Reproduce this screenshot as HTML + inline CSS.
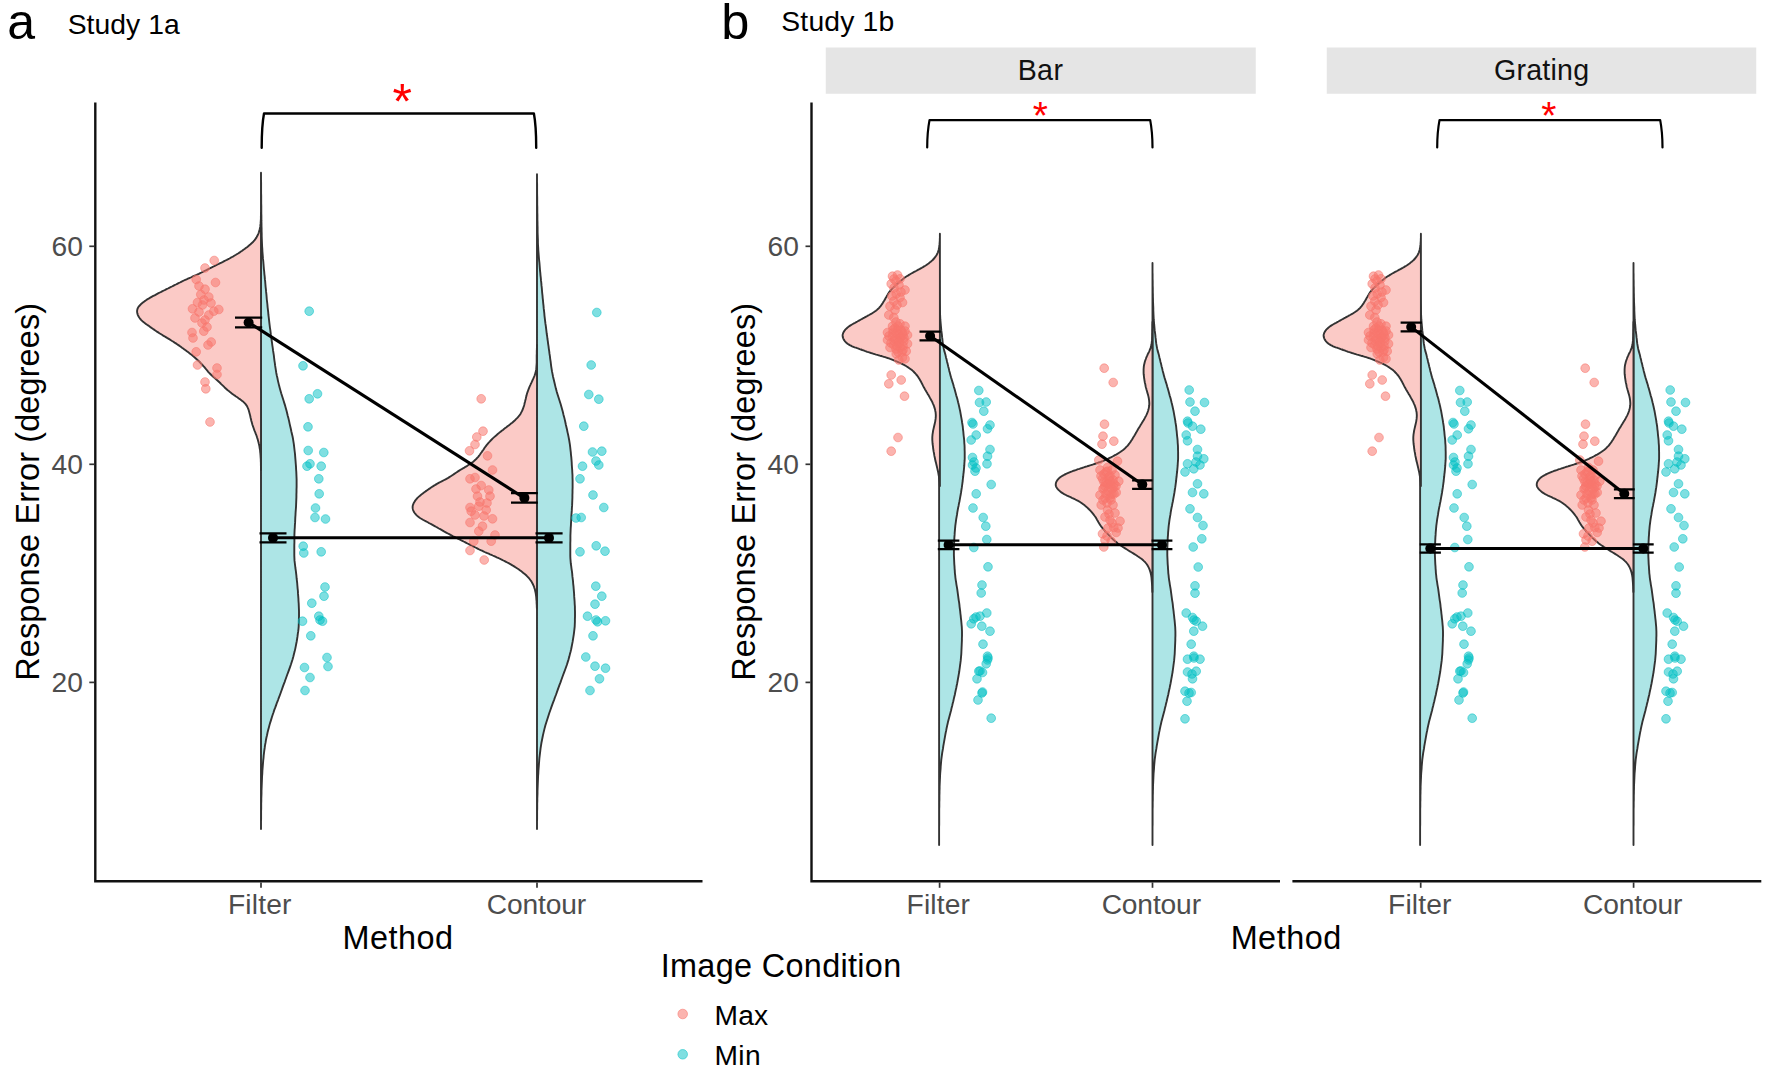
<!DOCTYPE html>
<html lang="en"><head><meta charset="utf-8"><title>Figure: Study 1a and Study 1b</title>
<style>html,body{margin:0;padding:0;background:#fff;}svg{display:block;}text{font-family:"Liberation Sans", sans-serif;}</style>
</head><body>
<svg width="1776" height="1078" viewBox="0 0 1776 1078">
<rect width="1776" height="1078" fill="#fff"/>
<rect x="825.75" y="47.5" width="430" height="46.25" fill="#e5e5e5"/>
<rect x="1326.75" y="47.5" width="429.5" height="46.25" fill="#e5e5e5"/>
<text x="1017.64" y="80" font-size="28.6" fill="#111" letter-spacing="0.408">Bar</text>
<text x="1493.97" y="80" font-size="28.6" fill="#111" letter-spacing="0.230">Grating</text>
<text x="7.18" y="39.1" font-size="50" fill="#000">a</text>
<text x="721.32" y="39" font-size="50.5" fill="#000">b</text>
<text x="67.63" y="33.9" font-size="28.3" fill="#000" letter-spacing="0.066">Study 1a</text>
<text x="781.33" y="31.2" font-size="28.3" fill="#000" letter-spacing="0.166">Study 1b</text>
<path d="M261,172.8 L261,175.3 L261,177.9 L261,180.4 L261.1,182.9 L261.1,185.5 L261.1,188 L261.1,190.5 L261.1,193.1 L261.2,195.6 L261.2,198.1 L261.2,200.7 L261.2,203.2 L261.3,205.7 L261.3,208.3 L261.3,210.8 L261.3,213.3 L261.4,215.9 L261.4,218.4 L261.4,220.9 L261.5,223.5 L261.5,226 L261.6,228.5 L261.6,231.1 L261.7,233.6 L261.7,236.1 L261.8,238.7 L261.9,241.2 L262,243.7 L262.1,246.3 L262.3,248.8 L262.4,251.3 L262.6,253.9 L262.8,256.4 L263,258.9 L263.3,261.5 L263.5,264 L263.7,266.5 L263.9,269.1 L264.2,271.6 L264.4,274.1 L264.7,276.7 L264.9,279.2 L265.2,281.7 L265.4,284.3 L265.6,286.8 L265.9,289.3 L266.1,291.9 L266.4,294.4 L266.6,296.9 L266.8,299.5 L267.1,302 L267.4,304.5 L267.6,307.1 L267.9,309.6 L268.2,312.1 L268.4,314.7 L268.7,317.2 L269,319.7 L269.3,322.3 L269.6,324.8 L269.9,327.3 L270.3,329.9 L270.6,332.4 L270.9,334.9 L271.3,337.5 L271.6,340 L272,342.6 L272.3,345.1 L272.7,347.6 L273,350.2 L273.4,352.7 L273.8,355.2 L274.1,357.8 L274.4,360.3 L274.8,362.8 L275.1,365.4 L275.5,367.9 L275.9,370.4 L276.3,373 L276.8,375.5 L277.4,378 L277.9,380.6 L278.5,383.1 L279.1,385.6 L279.8,388.2 L280.5,390.7 L281.2,393.2 L282,395.8 L282.8,398.3 L283.6,400.8 L284.4,403.4 L285.2,405.9 L285.9,408.4 L286.6,411 L287.2,413.5 L287.8,416 L288.5,418.6 L289.1,421.1 L289.6,423.6 L290.2,426.2 L290.8,428.7 L291.3,431.2 L291.9,433.8 L292.5,436.3 L293,438.8 L293.4,441.4 L293.8,443.9 L294.1,446.4 L294.4,449 L294.7,451.5 L295,454 L295.2,456.6 L295.4,459.1 L295.6,461.6 L295.8,464.2 L296,466.7 L296.1,469.2 L296.3,471.8 L296.4,474.3 L296.5,476.8 L296.6,479.4 L296.6,481.9 L296.6,484.4 L296.6,487 L296.5,489.5 L296.5,492 L296.4,494.6 L296.4,497.1 L296.3,499.6 L296.2,502.2 L296.1,504.7 L296,507.2 L295.8,509.8 L295.6,512.3 L295.5,514.8 L295.3,517.4 L295.2,519.9 L295.1,522.4 L294.9,525 L294.8,527.5 L294.6,530 L294.5,532.6 L294.4,535.1 L294.4,537.6 L294.4,540.2 L294.4,542.7 L294.3,545.2 L294.3,547.8 L294.3,550.3 L294.3,552.8 L294.3,555.4 L294.4,557.9 L294.5,560.4 L294.8,563 L295.1,565.5 L295.4,568 L295.8,570.6 L296.1,573.1 L296.4,575.6 L296.6,578.2 L296.9,580.7 L297.2,583.2 L297.4,585.8 L297.6,588.3 L297.9,590.8 L298,593.4 L298.2,595.9 L298.4,598.4 L298.5,601 L298.7,603.5 L298.8,606 L298.9,608.6 L299,611.1 L299,613.6 L299,616.2 L298.9,618.7 L298.9,621.2 L298.8,623.8 L298.7,626.3 L298.5,628.8 L298.2,631.4 L297.8,633.9 L297.5,636.4 L297.1,639 L296.7,641.5 L296.2,644 L295.7,646.6 L295.2,649.1 L294.6,651.6 L293.9,654.2 L293.3,656.7 L292.6,659.2 L291.8,661.8 L291,664.3 L290.1,666.9 L289.2,669.4 L288.3,671.9 L287.3,674.5 L286.4,677 L285.5,679.5 L284.6,682.1 L283.6,684.6 L282.7,687.1 L281.8,689.7 L280.9,692.2 L280,694.7 L279,697.3 L278.1,699.8 L277.1,702.3 L276.2,704.9 L275.3,707.4 L274.3,709.9 L273.5,712.5 L272.6,715 L271.8,717.5 L271,720.1 L270.2,722.6 L269.5,725.1 L268.8,727.7 L268.1,730.2 L267.5,732.7 L267,735.3 L266.4,737.8 L265.9,740.3 L265.5,742.9 L265,745.4 L264.7,747.9 L264.3,750.5 L264,753 L263.7,755.5 L263.5,758.1 L263.2,760.6 L263,763.1 L262.8,765.7 L262.6,768.2 L262.4,770.7 L262.3,773.3 L262.1,775.8 L262,778.3 L261.9,780.9 L261.8,783.4 L261.7,785.9 L261.6,788.5 L261.5,791 L261.5,793.5 L261.4,796.1 L261.3,798.6 L261.3,801.1 L261.2,803.7 L261.2,806.2 L261.2,808.7 L261.1,811.3 L261.1,813.8 L261.1,816.3 L261.1,818.9 L261,821.4 L261,823.9 L261,826.5 L261,829Z" fill="#ade5e6" stroke="#333333" stroke-width="1.9" stroke-linejoin="round"/>
<path d="M261,213 L261,214.5 L260.9,216 L260.9,217.5 L260.9,219 L260.8,220.4 L260.7,221.9 L260.6,223.4 L260.4,224.9 L260.3,226.4 L260,227.9 L259.7,229.3 L259.3,230.8 L258.9,232.2 L258.4,233.6 L257.8,235 L257.1,236.3 L256.4,237.6 L255.5,238.9 L254.6,240.1 L253.7,241.2 L252.7,242.3 L251.6,243.3 L250.5,244.3 L249.3,245.3 L248.2,246.2 L247,247.2 L245.8,248.1 L244.6,249 L243.4,249.8 L242.2,250.7 L240.9,251.5 L239.7,252.4 L238.5,253.2 L237.2,254 L235.9,254.8 L234.7,255.5 L233.4,256.3 L232.1,257 L230.8,257.7 L229.5,258.5 L228.2,259.2 L226.8,259.9 L225.5,260.5 L224.2,261.2 L222.9,261.9 L221.5,262.6 L220.2,263.2 L218.8,263.9 L217.5,264.5 L216.2,265.2 L214.8,265.8 L213.5,266.5 L212.2,267.2 L210.8,267.8 L209.5,268.5 L208.2,269.2 L206.8,269.9 L205.5,270.5 L204.2,271.2 L202.8,271.8 L201.5,272.5 L200.2,273.1 L198.8,273.8 L197.5,274.4 L196.1,275 L194.7,275.6 L193.4,276.2 L192,276.9 L190.7,277.5 L189.3,278.1 L187.9,278.7 L186.6,279.3 L185.2,279.9 L183.9,280.5 L182.5,281.2 L181.2,281.8 L179.9,282.5 L178.5,283.1 L177.2,283.8 L175.9,284.5 L174.5,285.1 L173.2,285.8 L171.9,286.5 L170.5,287.2 L169.2,287.8 L167.9,288.5 L166.5,289.2 L165.2,289.9 L163.9,290.5 L162.5,291.2 L161.2,291.9 L159.9,292.5 L158.5,293.2 L157.2,293.9 L155.9,294.6 L154.6,295.3 L153.3,295.9 L152,296.6 L150.7,297.3 L149.5,298.1 L148.2,298.8 L146.9,299.6 L145.7,300.5 L144.4,301.4 L143.2,302.3 L142,303.3 L140.8,304.3 L139.7,305.5 L138.7,306.6 L137.9,307.9 L137.4,309.2 L137.1,310.6 L137.1,312.1 L137.4,313.6 L137.9,315.1 L138.6,316.5 L139.4,317.8 L140.3,319 L141.3,320.1 L142.4,321.2 L143.5,322.1 L144.7,323 L145.9,323.9 L147.1,324.8 L148.4,325.6 L149.6,326.5 L150.8,327.4 L152,328.2 L153.2,329.1 L154.5,329.9 L155.7,330.8 L156.9,331.6 L158.2,332.4 L159.4,333.2 L160.7,334 L162,334.8 L163.2,335.6 L164.5,336.3 L165.8,337.1 L167.1,337.9 L168.3,338.6 L169.6,339.4 L170.9,340.2 L172.1,341 L173.4,341.8 L174.6,342.6 L175.9,343.4 L177.1,344.2 L178.4,345.1 L179.6,345.9 L180.8,346.8 L182,347.7 L183.2,348.5 L184.4,349.4 L185.6,350.3 L186.8,351.2 L188,352.1 L189.2,353 L190.4,353.9 L191.6,354.8 L192.7,355.7 L193.9,356.7 L195,357.7 L196.1,358.7 L197.2,359.7 L198.3,360.7 L199.4,361.7 L200.4,362.8 L201.4,363.9 L202.4,365 L203.4,366.1 L204.4,367.2 L205.4,368.4 L206.3,369.5 L207.3,370.7 L208.2,371.8 L209.2,372.9 L210.3,374 L211.3,375 L212.4,376 L213.5,377 L214.7,378 L215.8,379 L216.9,380 L218,381 L219.1,382 L220.2,383 L221.2,384.1 L222.3,385.1 L223.4,386.2 L224.4,387.2 L225.5,388.2 L226.6,389.2 L227.7,390.2 L228.9,391.1 L230,392.1 L231.2,393 L232.4,393.9 L233.6,394.8 L234.8,395.6 L236,396.5 L237.3,397.3 L238.5,398.2 L239.8,399.1 L241,400 L242.2,400.9 L243.4,401.8 L244.4,402.8 L245.4,403.9 L246.3,405.1 L247.1,406.3 L247.7,407.7 L248.3,409 L248.8,410.5 L249.2,411.9 L249.6,413.4 L250,414.9 L250.3,416.3 L250.6,417.8 L251,419.3 L251.3,420.7 L251.7,422.1 L252.1,423.6 L252.5,425 L253,426.4 L253.5,427.8 L254,429.2 L254.5,430.6 L255.1,432 L255.6,433.4 L256.2,434.8 L256.7,436.2 L257.1,437.6 L257.6,439 L258,440.4 L258.4,441.9 L258.7,443.3 L259.1,444.8 L259.4,446.2 L259.6,447.7 L259.9,449.2 L260.1,450.7 L260.2,452.1 L260.4,453.6 L260.5,455.1 L260.6,456.6 L260.7,458.1 L260.8,459.6 L260.8,461.1 L260.9,462.6 L260.9,464 L260.9,465.5 L261,467 L261,468.5 L261,470Z" fill="#fbcac6" stroke="#333333" stroke-width="1.9" stroke-linejoin="round"/>
<path d="M537,174.2 L537,176.7 L537,179.3 L537,181.8 L537.1,184.3 L537.1,186.8 L537.1,189.4 L537.1,191.9 L537.1,194.4 L537.2,197 L537.2,199.5 L537.2,202 L537.2,204.5 L537.3,207.1 L537.3,209.6 L537.3,212.1 L537.4,214.7 L537.4,217.2 L537.4,219.7 L537.5,222.2 L537.5,224.8 L537.6,227.3 L537.6,229.8 L537.6,232.3 L537.7,234.9 L537.8,237.4 L537.9,239.9 L537.9,242.5 L538,245 L538.2,247.5 L538.3,250 L538.5,252.6 L538.7,255.1 L538.9,257.6 L539.1,260.2 L539.4,262.7 L539.6,265.2 L539.8,267.7 L540,270.3 L540.3,272.8 L540.5,275.3 L540.8,277.9 L541,280.4 L541.3,282.9 L541.5,285.4 L541.8,288 L542,290.5 L542.2,293 L542.5,295.6 L542.7,298.1 L543,300.6 L543.2,303.1 L543.5,305.7 L543.7,308.2 L544,310.7 L544.3,313.3 L544.5,315.8 L544.8,318.3 L545.1,320.8 L545.4,323.4 L545.8,325.9 L546.1,328.4 L546.4,330.9 L546.7,333.5 L547.1,336 L547.4,338.5 L547.8,341.1 L548.1,343.6 L548.5,346.1 L548.8,348.6 L549.2,351.2 L549.5,353.7 L549.9,356.2 L550.2,358.8 L550.6,361.3 L550.9,363.8 L551.2,366.3 L551.6,368.9 L552,371.4 L552.5,373.9 L553,376.5 L553.6,379 L554.2,381.5 L554.8,384 L555.4,386.6 L556,389.1 L556.7,391.6 L557.5,394.2 L558.3,396.7 L559.1,399.2 L559.9,401.7 L560.7,404.3 L561.4,406.8 L562.1,409.3 L562.8,411.8 L563.4,414.4 L564.1,416.9 L564.7,419.4 L565.3,422 L565.8,424.5 L566.4,427 L567,429.5 L567.5,432.1 L568.1,434.6 L568.6,437.1 L569.1,439.7 L569.5,442.2 L569.9,444.7 L570.2,447.2 L570.5,449.8 L570.8,452.3 L571,454.8 L571.3,457.4 L571.5,459.9 L571.7,462.4 L571.8,464.9 L572,467.5 L572.2,470 L572.3,472.5 L572.5,475.1 L572.5,477.6 L572.6,480.1 L572.6,482.6 L572.6,485.2 L572.6,487.7 L572.5,490.2 L572.5,492.8 L572.4,495.3 L572.4,497.8 L572.3,500.3 L572.2,502.9 L572.1,505.4 L571.9,507.9 L571.8,510.4 L571.6,513 L571.4,515.5 L571.3,518 L571.2,520.6 L571,523.1 L570.9,525.6 L570.7,528.1 L570.6,530.7 L570.5,533.2 L570.4,535.7 L570.4,538.3 L570.4,540.8 L570.3,543.3 L570.3,545.8 L570.3,548.4 L570.3,550.9 L570.3,553.4 L570.3,556 L570.4,558.5 L570.6,561 L570.8,563.5 L571.2,566.1 L571.5,568.6 L571.9,571.1 L572.2,573.7 L572.4,576.2 L572.7,578.7 L573,581.2 L573.2,583.8 L573.5,586.3 L573.7,588.8 L573.9,591.4 L574.1,593.9 L574.2,596.4 L574.4,598.9 L574.6,601.5 L574.7,604 L574.9,606.5 L574.9,609 L575,611.6 L575,614.1 L575,616.6 L574.9,619.2 L574.9,621.7 L574.8,624.2 L574.7,626.7 L574.4,629.3 L574.1,631.8 L573.8,634.3 L573.4,636.9 L573,639.4 L572.6,641.9 L572.1,644.4 L571.6,647 L571.1,649.5 L570.5,652 L569.8,654.6 L569.2,657.1 L568.5,659.6 L567.7,662.1 L566.9,664.7 L566,667.2 L565.1,669.7 L564.1,672.3 L563.2,674.8 L562.3,677.3 L561.4,679.8 L560.5,682.4 L559.5,684.9 L558.6,687.4 L557.7,689.9 L556.8,692.5 L555.9,695 L554.9,697.5 L554,700.1 L553,702.6 L552.1,705.1 L551.2,707.6 L550.3,710.2 L549.4,712.7 L548.6,715.2 L547.8,717.8 L547,720.3 L546.2,722.8 L545.4,725.3 L544.7,727.9 L544.1,730.4 L543.5,732.9 L542.9,735.5 L542.4,738 L541.9,740.5 L541.4,743 L541,745.6 L540.6,748.1 L540.3,750.6 L540,753.2 L539.7,755.7 L539.4,758.2 L539.2,760.7 L539,763.3 L538.8,765.8 L538.6,768.3 L538.4,770.9 L538.3,773.4 L538.1,775.9 L538,778.4 L537.9,781 L537.8,783.5 L537.7,786 L537.6,788.5 L537.5,791.1 L537.5,793.6 L537.4,796.1 L537.3,798.7 L537.3,801.2 L537.2,803.7 L537.2,806.2 L537.2,808.8 L537.1,811.3 L537.1,813.8 L537.1,816.4 L537.1,818.9 L537,821.4 L537,823.9 L537,826.5 L537,829Z" fill="#ade5e6" stroke="#333333" stroke-width="1.9" stroke-linejoin="round"/>
<path d="M537,345 L537,346.5 L536.9,347.9 L536.9,349.4 L536.8,350.9 L536.8,352.3 L536.8,353.8 L536.7,355.3 L536.7,356.7 L536.7,358.2 L536.7,359.7 L536.7,361.2 L536.7,362.7 L536.6,364.2 L536.5,365.6 L536.4,367.1 L536.3,368.6 L536.1,370 L535.8,371.5 L535.5,372.9 L535,374.3 L534.6,375.6 L534,377 L533.4,378.4 L532.8,379.7 L532.2,381 L531.6,382.4 L530.9,383.7 L530.3,385.1 L529.7,386.4 L529.1,387.8 L528.6,389.1 L528.1,390.5 L527.6,391.9 L527.1,393.3 L526.7,394.7 L526.4,396.1 L526,397.5 L525.7,399 L525.3,400.4 L525,401.8 L524.6,403.3 L524.3,404.7 L523.9,406.1 L523.4,407.5 L522.9,408.9 L522.4,410.3 L521.7,411.6 L521,412.9 L520.3,414.2 L519.4,415.4 L518.5,416.5 L517.6,417.6 L516.5,418.7 L515.5,419.7 L514.4,420.7 L513.3,421.7 L512.2,422.7 L511,423.6 L509.9,424.5 L508.7,425.4 L507.5,426.3 L506.4,427.2 L505.2,428.1 L504,429 L502.9,429.9 L501.7,430.8 L500.6,431.7 L499.4,432.6 L498.3,433.6 L497.2,434.5 L496.1,435.5 L495,436.4 L493.9,437.4 L492.8,438.4 L491.7,439.5 L490.7,440.5 L489.7,441.6 L488.7,442.6 L487.7,443.8 L486.8,444.9 L485.9,446.1 L485,447.3 L484.2,448.4 L483.4,449.7 L482.5,450.9 L481.7,452.1 L480.8,453.3 L480,454.5 L479.1,455.7 L478.2,456.8 L477.2,457.9 L476.2,459 L475.1,460 L474,461 L472.9,461.9 L471.7,462.8 L470.5,463.6 L469.3,464.5 L468,465.3 L466.8,466.1 L465.5,466.8 L464.3,467.6 L463,468.3 L461.7,469.1 L460.5,469.8 L459.2,470.6 L458,471.4 L456.8,472.2 L455.6,473 L454.3,473.9 L453.1,474.7 L451.9,475.5 L450.7,476.3 L449.4,477.1 L448.2,477.9 L446.9,478.6 L445.6,479.3 L444.3,480 L443,480.7 L441.7,481.3 L440.4,482 L439.1,482.7 L437.8,483.4 L436.5,484.1 L435.3,484.9 L434,485.6 L432.8,486.4 L431.5,487.2 L430.3,488.1 L429.1,488.9 L427.9,489.7 L426.7,490.6 L425.5,491.4 L424.3,492.3 L423.1,493.2 L422,494.1 L420.8,495 L419.7,495.9 L418.6,496.9 L417.5,497.9 L416.5,499 L415.6,500.1 L414.7,501.4 L413.9,502.7 L413.3,504.1 L412.8,505.5 L412.6,506.9 L412.7,508.4 L413,509.8 L413.6,511.2 L414.3,512.5 L415.2,513.7 L416.2,514.9 L417.3,515.9 L418.4,516.8 L419.6,517.7 L420.9,518.5 L422.1,519.2 L423.4,520 L424.7,520.7 L426,521.3 L427.3,522 L428.6,522.8 L429.9,523.5 L431.2,524.2 L432.5,524.9 L433.8,525.6 L435.1,526.3 L436.3,527 L437.6,527.7 L438.9,528.5 L440.2,529.2 L441.5,529.9 L442.7,530.6 L444,531.4 L445.3,532.1 L446.6,532.8 L447.9,533.5 L449.2,534.2 L450.5,534.9 L451.8,535.6 L453.1,536.3 L454.4,536.9 L455.7,537.6 L457,538.2 L458.3,538.9 L459.6,539.5 L460.9,540.2 L462.3,540.8 L463.6,541.5 L464.9,542.1 L466.2,542.8 L467.5,543.5 L468.8,544.1 L470.1,544.8 L471.5,545.5 L472.8,546.1 L474.1,546.8 L475.4,547.5 L476.7,548.1 L478,548.8 L479.3,549.5 L480.6,550.1 L482,550.7 L483.3,551.3 L484.6,552 L486,552.6 L487.3,553.2 L488.7,553.7 L490,554.3 L491.4,554.9 L492.7,555.5 L494.1,556.1 L495.4,556.7 L496.7,557.3 L498.1,557.9 L499.4,558.5 L500.7,559.2 L502.1,559.8 L503.4,560.5 L504.7,561.1 L506,561.8 L507.3,562.5 L508.6,563.2 L509.9,563.9 L511.2,564.6 L512.4,565.4 L513.7,566.1 L514.9,566.9 L516.2,567.7 L517.4,568.5 L518.6,569.3 L519.8,570.2 L521,571.1 L522.2,572 L523.3,572.9 L524.4,573.8 L525.6,574.8 L526.7,575.8 L527.7,576.8 L528.7,577.9 L529.6,579 L530.5,580.2 L531.4,581.4 L532.1,582.7 L532.8,584 L533.4,585.3 L534,586.7 L534.4,588.1 L534.9,589.5 L535.2,591 L535.5,592.4 L535.8,593.8 L536,595.3 L536.2,596.8 L536.3,598.2 L536.4,599.7 L536.6,601.2 L536.6,602.6 L536.7,604.1 L536.8,605.6 L536.8,607 L536.9,608.5Z" fill="#fbcac6" stroke="#333333" stroke-width="1.9" stroke-linejoin="round"/>
<path d="M939.1,263 L939.1,265.2 L939.1,267.5 L939.1,269.7 L939.1,272 L939.2,274.2 L939.2,276.5 L939.2,278.7 L939.3,281 L939.3,283.2 L939.3,285.5 L939.4,287.7 L939.4,290 L939.4,292.2 L939.5,294.5 L939.5,296.7 L939.6,299 L939.6,301.2 L939.7,303.4 L939.8,305.7 L939.9,307.9 L939.9,310.2 L940,312.4 L940.1,314.7 L940.2,316.9 L940.3,319.2 L940.5,321.4 L940.7,323.7 L940.9,325.9 L941.1,328.2 L941.3,330.4 L941.6,332.7 L941.9,334.9 L942.1,337.2 L942.4,339.4 L942.6,341.6 L942.9,343.9 L943.3,346.1 L943.7,348.4 L944.2,350.6 L944.9,352.9 L945.5,355.1 L946,357.4 L946.6,359.6 L947.1,361.9 L947.7,364.1 L948.2,366.4 L948.8,368.6 L949.3,370.9 L949.9,373.1 L950.5,375.4 L951.1,377.6 L951.8,379.8 L952.5,382.1 L953.2,384.3 L953.8,386.6 L954.5,388.8 L955.1,391.1 L955.7,393.3 L956.3,395.6 L957,397.8 L957.6,400.1 L958.1,402.3 L958.7,404.6 L959.2,406.8 L959.7,409.1 L960.2,411.3 L960.6,413.6 L961,415.8 L961.4,418.1 L961.8,420.3 L962.1,422.5 L962.5,424.8 L962.8,427 L963,429.3 L963.3,431.5 L963.5,433.8 L963.7,436 L964,438.3 L964.2,440.5 L964.3,442.8 L964.5,445 L964.6,447.3 L964.6,449.5 L964.7,451.8 L964.7,454 L964.7,456.3 L964.7,458.5 L964.6,460.7 L964.4,463 L964.3,465.2 L964.1,467.5 L963.9,469.7 L963.7,472 L963.4,474.2 L963.2,476.5 L962.9,478.7 L962.7,481 L962.4,483.2 L962.1,485.5 L961.8,487.7 L961.4,490 L961.1,492.2 L960.7,494.5 L960.3,496.7 L959.9,498.9 L959.5,501.2 L959,503.4 L958.6,505.7 L958.1,507.9 L957.7,510.2 L957.3,512.4 L957,514.7 L956.6,516.9 L956.2,519.2 L955.9,521.4 L955.6,523.7 L955.3,525.9 L955.1,528.2 L954.9,530.4 L954.7,532.7 L954.6,534.9 L954.4,537.1 L954.3,539.4 L954.2,541.6 L954.1,543.9 L954,546.1 L953.9,548.4 L953.9,550.6 L953.9,552.9 L953.9,555.1 L954,557.4 L954.1,559.6 L954.2,561.9 L954.3,564.1 L954.5,566.4 L954.6,568.6 L954.8,570.9 L954.9,573.1 L955.2,575.3 L955.4,577.6 L955.7,579.8 L956.1,582.1 L956.4,584.3 L956.8,586.6 L957.2,588.8 L957.5,591.1 L957.8,593.3 L958.1,595.6 L958.4,597.8 L958.7,600.1 L959.1,602.3 L959.4,604.6 L959.6,606.8 L959.9,609.1 L960.2,611.3 L960.4,613.5 L960.7,615.8 L960.9,618 L961.2,620.3 L961.4,622.5 L961.6,624.8 L961.8,627 L961.9,629.3 L962,631.5 L962,633.8 L962,636 L961.9,638.3 L961.9,640.5 L961.8,642.8 L961.7,645 L961.6,647.3 L961.5,649.5 L961.4,651.7 L961.3,654 L961.1,656.2 L960.9,658.5 L960.7,660.7 L960.4,663 L960.1,665.2 L959.8,667.5 L959.5,669.7 L959.2,672 L958.8,674.2 L958.4,676.5 L958,678.7 L957.6,681 L957.2,683.2 L956.7,685.5 L956.3,687.7 L955.8,689.9 L955.3,692.2 L954.9,694.4 L954.3,696.7 L953.8,698.9 L953.3,701.2 L952.7,703.4 L952.2,705.7 L951.6,707.9 L951.1,710.2 L950.5,712.4 L949.9,714.7 L949.3,716.9 L948.7,719.2 L948.1,721.4 L947.6,723.7 L947.1,725.9 L946.6,728.2 L946.2,730.4 L945.7,732.6 L945.3,734.9 L944.9,737.1 L944.5,739.4 L944.1,741.6 L943.7,743.9 L943.3,746.1 L943,748.4 L942.6,750.6 L942.2,752.9 L941.9,755.1 L941.6,757.4 L941.3,759.6 L941.1,761.9 L940.9,764.1 L940.7,766.4 L940.6,768.6 L940.4,770.8 L940.2,773.1 L940.1,775.3 L940,777.6 L939.9,779.8 L939.8,782.1 L939.7,784.3 L939.6,786.6 L939.6,788.8 L939.5,791.1 L939.5,793.3 L939.4,795.6 L939.4,797.8 L939.4,800.1 L939.3,802.3 L939.3,804.6 L939.3,806.8 L939.2,809 L939.2,811.3 L939.2,813.5 L939.2,815.8 L939.2,818 L939.2,820.3 L939.2,822.5 L939.2,824.8 L939.1,827 L939.1,829.3 L939.1,831.5 L939.1,833.8 L939.1,836 L939.1,838.3 L939.1,840.5 L939.1,842.8 L939.1,845Z" fill="#ade5e6" stroke="#333333" stroke-width="1.9" stroke-linejoin="round"/>
<path d="M939.9,233.8 L939.9,235.1 L939.9,236.4 L939.9,237.8 L939.8,239.1 L939.8,240.4 L939.7,241.7 L939.6,243.1 L939.5,244.4 L939.3,245.7 L939.2,247.1 L938.9,248.4 L938.7,249.7 L938.3,251 L937.9,252.3 L937.4,253.5 L936.8,254.7 L936.1,255.8 L935.3,256.9 L934.5,258 L933.6,259 L932.7,260 L931.7,260.9 L930.7,261.8 L929.6,262.6 L928.6,263.5 L927.5,264.2 L926.4,265 L925.3,265.7 L924.1,266.4 L923,267.1 L921.8,267.8 L920.7,268.4 L919.5,269.1 L918.3,269.7 L917.2,270.3 L916,271 L914.8,271.6 L913.6,272.2 L912.5,272.9 L911.3,273.5 L910.1,274.2 L909,274.9 L907.9,275.6 L906.7,276.3 L905.6,277 L904.5,277.8 L903.5,278.6 L902.4,279.4 L901.4,280.2 L900.3,281.1 L899.3,281.9 L898.3,282.8 L897.3,283.7 L896.3,284.6 L895.3,285.5 L894.3,286.4 L893.4,287.4 L892.4,288.3 L891.5,289.3 L890.7,290.3 L889.8,291.4 L889.1,292.4 L888.3,293.5 L887.6,294.7 L886.9,295.8 L886.3,297 L885.6,298.1 L885,299.3 L884.3,300.5 L883.6,301.6 L882.9,302.8 L882.2,303.9 L881.4,305 L880.6,306.1 L879.7,307.1 L878.9,308.1 L877.9,309 L876.9,309.9 L875.9,310.7 L874.8,311.5 L873.7,312.3 L872.6,313 L871.5,313.7 L870.3,314.3 L869.1,315 L867.9,315.6 L866.8,316.3 L865.6,316.9 L864.4,317.6 L863.2,318.2 L862.1,318.9 L860.9,319.5 L859.7,320.2 L858.6,320.8 L857.4,321.5 L856.3,322.1 L855.1,322.8 L853.9,323.4 L852.8,324 L851.6,324.7 L850.5,325.4 L849.4,326.1 L848.3,326.9 L847.3,327.8 L846.3,328.7 L845.3,329.7 L844.4,330.8 L843.7,332 L843.1,333.2 L842.7,334.5 L842.6,335.8 L842.8,337.1 L843.2,338.3 L843.8,339.6 L844.6,340.8 L845.5,341.8 L846.4,342.8 L847.5,343.7 L848.6,344.4 L849.7,345.1 L850.9,345.7 L852.1,346.3 L853.4,346.8 L854.6,347.3 L855.9,347.7 L857.2,348.2 L858.5,348.6 L859.7,349.1 L861,349.5 L862.2,350 L863.5,350.4 L864.7,350.9 L866,351.3 L867.2,351.8 L868.5,352.2 L869.8,352.6 L871,353 L872.3,353.4 L873.6,353.8 L874.8,354.2 L876.1,354.6 L877.4,354.9 L878.7,355.3 L880,355.7 L881.3,356 L882.5,356.4 L883.8,356.8 L885.1,357.2 L886.4,357.6 L887.6,358 L888.9,358.4 L890.2,358.9 L891.4,359.3 L892.7,359.8 L893.9,360.3 L895.1,360.8 L896.4,361.3 L897.6,361.8 L898.8,362.4 L900,362.9 L901.2,363.5 L902.4,364.1 L903.6,364.7 L904.8,365.3 L906,366 L907.1,366.7 L908.2,367.4 L909.3,368.2 L910.4,369 L911.5,369.8 L912.5,370.6 L913.5,371.5 L914.4,372.5 L915.4,373.5 L916.2,374.5 L917.1,375.5 L917.9,376.6 L918.6,377.7 L919.3,378.8 L920,380 L920.6,381.1 L921.3,382.3 L921.9,383.5 L922.5,384.7 L923.1,385.9 L923.7,387 L924.4,388.2 L925,389.4 L925.7,390.5 L926.4,391.7 L927.1,392.8 L927.7,394 L928.4,395.1 L929.1,396.3 L929.7,397.4 L930.4,398.6 L931,399.8 L931.7,400.9 L932.3,402.1 L932.8,403.3 L933.4,404.6 L933.9,405.8 L934.3,407.1 L934.7,408.4 L935.1,409.7 L935.3,411 L935.6,412.3 L935.7,413.6 L935.8,414.9 L935.8,416.3 L935.7,417.6 L935.6,418.9 L935.4,420.2 L935.2,421.6 L934.9,422.9 L934.6,424.2 L934.3,425.5 L934,426.8 L933.7,428.1 L933.4,429.4 L933.1,430.7 L932.9,432.1 L932.7,433.4 L932.5,434.7 L932.4,436 L932.3,437.3 L932.3,438.7 L932.3,440 L932.4,441.3 L932.5,442.7 L932.6,444 L932.8,445.3 L933,446.6 L933.1,448 L933.3,449.3 L933.5,450.6 L933.7,451.9 L934,453.2 L934.2,454.6 L934.4,455.9 L934.7,457.2 L935,458.5 L935.2,459.8 L935.5,461.1 L935.9,462.4 L936.2,463.7 L936.5,465 L936.8,466.3 L937.1,467.6 L937.4,468.9 L937.7,470.2 L938,471.5 L938.3,472.8 L938.5,474.1 L938.7,475.4 L939,476.7 L939.1,478 L939.3,479.4 L939.4,480.7 L939.6,482 L939.7,483.3 L939.8,484.7 L939.9,486Z" fill="#fbcac6" stroke="#333333" stroke-width="1.9" stroke-linejoin="round"/>
<path d="M1152.5,263 L1152.5,265.2 L1152.5,267.5 L1152.5,269.7 L1152.5,272 L1152.6,274.2 L1152.6,276.5 L1152.6,278.7 L1152.7,281 L1152.7,283.2 L1152.7,285.5 L1152.8,287.7 L1152.8,290 L1152.8,292.2 L1152.9,294.5 L1152.9,296.7 L1153,299 L1153,301.2 L1153.1,303.4 L1153.2,305.7 L1153.3,307.9 L1153.3,310.2 L1153.4,312.4 L1153.5,314.7 L1153.6,316.9 L1153.7,319.2 L1153.9,321.4 L1154.1,323.7 L1154.3,325.9 L1154.5,328.2 L1154.7,330.4 L1155,332.7 L1155.3,334.9 L1155.5,337.2 L1155.8,339.4 L1156,341.6 L1156.3,343.9 L1156.7,346.1 L1157.1,348.4 L1157.6,350.6 L1158.3,352.9 L1158.9,355.1 L1159.4,357.4 L1160,359.6 L1160.5,361.9 L1161.1,364.1 L1161.6,366.4 L1162.2,368.6 L1162.7,370.9 L1163.3,373.1 L1163.9,375.4 L1164.5,377.6 L1165.2,379.8 L1165.9,382.1 L1166.6,384.3 L1167.2,386.6 L1167.9,388.8 L1168.5,391.1 L1169.1,393.3 L1169.7,395.6 L1170.4,397.8 L1171,400.1 L1171.5,402.3 L1172.1,404.6 L1172.6,406.8 L1173.1,409.1 L1173.6,411.3 L1174,413.6 L1174.4,415.8 L1174.8,418.1 L1175.2,420.3 L1175.5,422.5 L1175.9,424.8 L1176.2,427 L1176.4,429.3 L1176.7,431.5 L1176.9,433.8 L1177.1,436 L1177.4,438.3 L1177.6,440.5 L1177.7,442.8 L1177.9,445 L1178,447.3 L1178,449.5 L1178.1,451.8 L1178.1,454 L1178.1,456.3 L1178.1,458.5 L1178,460.7 L1177.8,463 L1177.7,465.2 L1177.5,467.5 L1177.3,469.7 L1177.1,472 L1176.8,474.2 L1176.6,476.5 L1176.3,478.7 L1176.1,481 L1175.8,483.2 L1175.5,485.5 L1175.2,487.7 L1174.8,490 L1174.5,492.2 L1174.1,494.5 L1173.7,496.7 L1173.3,498.9 L1172.9,501.2 L1172.4,503.4 L1172,505.7 L1171.5,507.9 L1171.1,510.2 L1170.7,512.4 L1170.4,514.7 L1170,516.9 L1169.6,519.2 L1169.3,521.4 L1169,523.7 L1168.7,525.9 L1168.5,528.2 L1168.3,530.4 L1168.1,532.7 L1168,534.9 L1167.8,537.1 L1167.7,539.4 L1167.6,541.6 L1167.5,543.9 L1167.4,546.1 L1167.3,548.4 L1167.3,550.6 L1167.3,552.9 L1167.3,555.1 L1167.4,557.4 L1167.5,559.6 L1167.6,561.9 L1167.7,564.1 L1167.9,566.4 L1168,568.6 L1168.2,570.9 L1168.3,573.1 L1168.6,575.3 L1168.8,577.6 L1169.1,579.8 L1169.5,582.1 L1169.8,584.3 L1170.2,586.6 L1170.6,588.8 L1170.9,591.1 L1171.2,593.3 L1171.5,595.6 L1171.8,597.8 L1172.1,600.1 L1172.5,602.3 L1172.8,604.6 L1173,606.8 L1173.3,609.1 L1173.6,611.3 L1173.8,613.5 L1174.1,615.8 L1174.3,618 L1174.6,620.3 L1174.8,622.5 L1175,624.8 L1175.2,627 L1175.3,629.3 L1175.4,631.5 L1175.4,633.8 L1175.4,636 L1175.3,638.3 L1175.3,640.5 L1175.2,642.8 L1175.1,645 L1175,647.3 L1174.9,649.5 L1174.8,651.7 L1174.7,654 L1174.5,656.2 L1174.3,658.5 L1174.1,660.7 L1173.8,663 L1173.5,665.2 L1173.2,667.5 L1172.9,669.7 L1172.6,672 L1172.2,674.2 L1171.8,676.5 L1171.4,678.7 L1171,681 L1170.6,683.2 L1170.1,685.5 L1169.7,687.7 L1169.2,689.9 L1168.7,692.2 L1168.3,694.4 L1167.7,696.7 L1167.2,698.9 L1166.7,701.2 L1166.1,703.4 L1165.6,705.7 L1165,707.9 L1164.5,710.2 L1163.9,712.4 L1163.3,714.7 L1162.7,716.9 L1162.1,719.2 L1161.5,721.4 L1161,723.7 L1160.5,725.9 L1160,728.2 L1159.6,730.4 L1159.1,732.6 L1158.7,734.9 L1158.3,737.1 L1157.9,739.4 L1157.5,741.6 L1157.1,743.9 L1156.7,746.1 L1156.4,748.4 L1156,750.6 L1155.6,752.9 L1155.3,755.1 L1155,757.4 L1154.7,759.6 L1154.5,761.9 L1154.3,764.1 L1154.1,766.4 L1154,768.6 L1153.8,770.8 L1153.6,773.1 L1153.5,775.3 L1153.4,777.6 L1153.3,779.8 L1153.2,782.1 L1153.1,784.3 L1153,786.6 L1153,788.8 L1152.9,791.1 L1152.9,793.3 L1152.8,795.6 L1152.8,797.8 L1152.8,800.1 L1152.7,802.3 L1152.7,804.6 L1152.7,806.8 L1152.6,809 L1152.6,811.3 L1152.6,813.5 L1152.6,815.8 L1152.6,818 L1152.6,820.3 L1152.6,822.5 L1152.6,824.8 L1152.5,827 L1152.5,829.3 L1152.5,831.5 L1152.5,833.8 L1152.5,836 L1152.5,838.3 L1152.5,840.5 L1152.5,842.8 L1152.5,845Z" fill="#ade5e6" stroke="#333333" stroke-width="1.9" stroke-linejoin="round"/>
<path d="M1152.5,322 L1152.5,323.3 L1152.4,324.6 L1152.4,325.9 L1152.4,327.2 L1152.4,328.5 L1152.3,329.9 L1152.3,331.2 L1152.3,332.5 L1152.2,333.8 L1152.2,335.1 L1152.2,336.5 L1152.1,337.8 L1152.1,339.1 L1152,340.4 L1151.8,341.8 L1151.7,343.1 L1151.5,344.3 L1151.2,345.6 L1150.9,346.9 L1150.5,348.1 L1150,349.3 L1149.5,350.6 L1149,351.8 L1148.4,353 L1147.8,354.2 L1147.3,355.4 L1146.7,356.6 L1146.2,357.8 L1145.8,359 L1145.3,360.3 L1144.9,361.5 L1144.6,362.8 L1144.3,364 L1144,365.3 L1143.8,366.6 L1143.7,368 L1143.6,369.3 L1143.6,370.6 L1143.6,371.9 L1143.6,373.2 L1143.7,374.5 L1143.9,375.9 L1144,377.2 L1144.2,378.5 L1144.4,379.8 L1144.6,381.1 L1144.8,382.4 L1145.1,383.6 L1145.4,384.9 L1145.6,386.2 L1145.9,387.5 L1146.3,388.8 L1146.6,390 L1147,391.3 L1147.3,392.6 L1147.7,393.8 L1148.1,395.1 L1148.4,396.4 L1148.7,397.7 L1148.9,399 L1149.1,400.3 L1149.2,401.6 L1149.3,402.9 L1149.3,404.2 L1149.2,405.5 L1149,406.8 L1148.8,408.1 L1148.5,409.4 L1148.1,410.7 L1147.7,411.9 L1147.2,413.2 L1146.7,414.4 L1146.1,415.6 L1145.5,416.7 L1144.9,417.9 L1144.3,419 L1143.6,420.2 L1142.9,421.3 L1142.2,422.4 L1141.6,423.5 L1140.9,424.6 L1140.2,425.8 L1139.5,426.9 L1138.8,428 L1138.1,429.1 L1137.5,430.3 L1136.8,431.4 L1136.2,432.6 L1135.5,433.7 L1134.9,434.8 L1134.2,436 L1133.5,437.1 L1132.8,438.2 L1132.1,439.4 L1131.4,440.5 L1130.7,441.6 L1129.9,442.7 L1129.2,443.7 L1128.3,444.8 L1127.5,445.8 L1126.6,446.7 L1125.7,447.7 L1124.8,448.6 L1123.8,449.4 L1122.8,450.3 L1121.7,451 L1120.6,451.8 L1119.5,452.5 L1118.4,453.2 L1117.3,453.9 L1116.1,454.6 L1114.9,455.2 L1113.8,455.8 L1112.6,456.5 L1111.4,457.1 L1110.3,457.6 L1109.1,458.2 L1107.9,458.8 L1106.7,459.3 L1105.5,459.8 L1104.3,460.3 L1103.1,460.8 L1101.8,461.3 L1100.6,461.8 L1099.4,462.2 L1098.1,462.7 L1096.9,463.1 L1095.7,463.5 L1094.4,464 L1093.2,464.4 L1091.9,464.8 L1090.7,465.2 L1089.4,465.6 L1088.1,466 L1086.9,466.4 L1085.6,466.7 L1084.4,467.2 L1083.1,467.6 L1081.9,468 L1080.6,468.4 L1079.4,468.8 L1078.1,469.2 L1076.9,469.6 L1075.7,470.1 L1074.4,470.5 L1073.2,470.9 L1072,471.4 L1070.7,471.9 L1069.5,472.4 L1068.3,472.9 L1067.1,473.4 L1065.9,474 L1064.7,474.5 L1063.6,475.2 L1062.4,475.8 L1061.3,476.5 L1060.2,477.3 L1059.2,478.1 L1058.2,479.1 L1057.4,480.1 L1056.7,481.2 L1056.1,482.4 L1055.8,483.7 L1055.7,485 L1056,486.3 L1056.6,487.5 L1057.3,488.6 L1058.3,489.7 L1059.3,490.6 L1060.3,491.5 L1061.4,492.4 L1062.5,493.1 L1063.6,493.8 L1064.7,494.4 L1065.9,495 L1067,495.6 L1068.2,496.1 L1069.4,496.7 L1070.6,497.2 L1071.8,497.8 L1073,498.3 L1074.2,498.9 L1075.4,499.5 L1076.5,500.1 L1077.7,500.7 L1078.9,501.3 L1080,502 L1081.1,502.7 L1082.2,503.5 L1083.2,504.2 L1084.3,505 L1085.3,505.9 L1086.3,506.7 L1087.3,507.6 L1088.2,508.5 L1089.2,509.5 L1090.1,510.4 L1091,511.4 L1091.9,512.4 L1092.7,513.4 L1093.5,514.4 L1094.3,515.5 L1095.1,516.5 L1095.8,517.6 L1096.5,518.8 L1097.1,519.9 L1097.8,521 L1098.4,522.2 L1099.1,523.3 L1099.8,524.4 L1100.5,525.5 L1101.3,526.6 L1102.1,527.6 L1102.9,528.6 L1103.8,529.6 L1104.7,530.6 L1105.5,531.6 L1106.4,532.6 L1107.3,533.6 L1108.2,534.5 L1109.1,535.5 L1110,536.4 L1110.9,537.4 L1111.9,538.3 L1112.8,539.2 L1113.8,540.1 L1114.8,541 L1115.8,541.8 L1116.8,542.6 L1117.8,543.4 L1118.9,544.2 L1120,545 L1121.1,545.7 L1122.2,546.4 L1123.3,547.2 L1124.4,547.9 L1125.5,548.6 L1126.6,549.3 L1127.7,550 L1128.8,550.7 L1129.9,551.4 L1131,552 L1132.2,552.7 L1133.3,553.4 L1134.4,554.1 L1135.5,554.8 L1136.6,555.5 L1137.7,556.3 L1138.8,557 L1139.9,557.8 L1141,558.5 L1142.1,559.3 L1143.1,560.2 L1144,561.1 L1145,562 L1145.8,563 L1146.6,564 L1147.4,565.1 L1148,566.2 L1148.6,567.4 L1149.2,568.6 L1149.7,569.9 L1150.1,571.1 L1150.5,572.4 L1150.8,573.7 L1151.1,575 L1151.3,576.3 L1151.5,577.6 L1151.6,578.9 L1151.7,580.2 L1151.8,581.5 L1151.9,582.8 L1152,584.1 L1152.1,585.4 L1152.2,586.8 L1152.2,588.1 L1152.3,589.4 L1152.3,590.7 L1152.4,592Z" fill="#fbcac6" stroke="#333333" stroke-width="1.9" stroke-linejoin="round"/>
<path d="M1420.1,263 L1420.1,265.2 L1420.1,267.5 L1420.1,269.7 L1420.1,272 L1420.2,274.2 L1420.2,276.5 L1420.2,278.7 L1420.3,281 L1420.3,283.2 L1420.3,285.5 L1420.4,287.7 L1420.4,290 L1420.4,292.2 L1420.5,294.5 L1420.5,296.7 L1420.6,299 L1420.6,301.2 L1420.7,303.4 L1420.8,305.7 L1420.9,307.9 L1420.9,310.2 L1421,312.4 L1421.1,314.7 L1421.2,316.9 L1421.3,319.2 L1421.5,321.4 L1421.7,323.7 L1421.9,325.9 L1422.1,328.2 L1422.3,330.4 L1422.6,332.7 L1422.9,334.9 L1423.1,337.2 L1423.4,339.4 L1423.6,341.6 L1423.9,343.9 L1424.3,346.1 L1424.7,348.4 L1425.2,350.6 L1425.9,352.9 L1426.5,355.1 L1427,357.4 L1427.6,359.6 L1428.1,361.9 L1428.7,364.1 L1429.2,366.4 L1429.8,368.6 L1430.3,370.9 L1430.9,373.1 L1431.5,375.4 L1432.1,377.6 L1432.8,379.8 L1433.5,382.1 L1434.2,384.3 L1434.8,386.6 L1435.5,388.8 L1436.1,391.1 L1436.7,393.3 L1437.3,395.6 L1438,397.8 L1438.6,400.1 L1439.1,402.3 L1439.7,404.6 L1440.2,406.8 L1440.7,409.1 L1441.2,411.3 L1441.6,413.6 L1442,415.8 L1442.4,418.1 L1442.8,420.3 L1443.1,422.5 L1443.5,424.8 L1443.8,427 L1444,429.3 L1444.3,431.5 L1444.5,433.8 L1444.7,436 L1445,438.3 L1445.2,440.5 L1445.3,442.8 L1445.5,445 L1445.6,447.3 L1445.6,449.5 L1445.7,451.8 L1445.7,454 L1445.7,456.3 L1445.7,458.5 L1445.6,460.7 L1445.4,463 L1445.3,465.2 L1445.1,467.5 L1444.9,469.7 L1444.7,472 L1444.4,474.2 L1444.2,476.5 L1443.9,478.7 L1443.7,481 L1443.4,483.2 L1443.1,485.5 L1442.8,487.7 L1442.4,490 L1442.1,492.2 L1441.7,494.5 L1441.3,496.7 L1440.9,498.9 L1440.5,501.2 L1440,503.4 L1439.6,505.7 L1439.1,507.9 L1438.7,510.2 L1438.3,512.4 L1438,514.7 L1437.6,516.9 L1437.2,519.2 L1436.9,521.4 L1436.6,523.7 L1436.3,525.9 L1436.1,528.2 L1435.9,530.4 L1435.7,532.7 L1435.6,534.9 L1435.4,537.1 L1435.3,539.4 L1435.2,541.6 L1435.1,543.9 L1435,546.1 L1434.9,548.4 L1434.9,550.6 L1434.9,552.9 L1434.9,555.1 L1435,557.4 L1435.1,559.6 L1435.2,561.9 L1435.3,564.1 L1435.5,566.4 L1435.6,568.6 L1435.8,570.9 L1435.9,573.1 L1436.2,575.3 L1436.4,577.6 L1436.7,579.8 L1437.1,582.1 L1437.4,584.3 L1437.8,586.6 L1438.2,588.8 L1438.5,591.1 L1438.8,593.3 L1439.1,595.6 L1439.4,597.8 L1439.7,600.1 L1440.1,602.3 L1440.4,604.6 L1440.6,606.8 L1440.9,609.1 L1441.2,611.3 L1441.4,613.5 L1441.7,615.8 L1441.9,618 L1442.2,620.3 L1442.4,622.5 L1442.6,624.8 L1442.8,627 L1442.9,629.3 L1443,631.5 L1443,633.8 L1443,636 L1442.9,638.3 L1442.9,640.5 L1442.8,642.8 L1442.7,645 L1442.6,647.3 L1442.5,649.5 L1442.4,651.7 L1442.3,654 L1442.1,656.2 L1441.9,658.5 L1441.7,660.7 L1441.4,663 L1441.1,665.2 L1440.8,667.5 L1440.5,669.7 L1440.2,672 L1439.8,674.2 L1439.4,676.5 L1439,678.7 L1438.6,681 L1438.2,683.2 L1437.7,685.5 L1437.3,687.7 L1436.8,689.9 L1436.3,692.2 L1435.9,694.4 L1435.3,696.7 L1434.8,698.9 L1434.3,701.2 L1433.7,703.4 L1433.2,705.7 L1432.6,707.9 L1432.1,710.2 L1431.5,712.4 L1430.9,714.7 L1430.3,716.9 L1429.7,719.2 L1429.1,721.4 L1428.6,723.7 L1428.1,725.9 L1427.6,728.2 L1427.2,730.4 L1426.7,732.6 L1426.3,734.9 L1425.9,737.1 L1425.5,739.4 L1425.1,741.6 L1424.7,743.9 L1424.3,746.1 L1424,748.4 L1423.6,750.6 L1423.2,752.9 L1422.9,755.1 L1422.6,757.4 L1422.3,759.6 L1422.1,761.9 L1421.9,764.1 L1421.7,766.4 L1421.6,768.6 L1421.4,770.8 L1421.2,773.1 L1421.1,775.3 L1421,777.6 L1420.9,779.8 L1420.8,782.1 L1420.7,784.3 L1420.6,786.6 L1420.6,788.8 L1420.5,791.1 L1420.5,793.3 L1420.4,795.6 L1420.4,797.8 L1420.4,800.1 L1420.3,802.3 L1420.3,804.6 L1420.3,806.8 L1420.2,809 L1420.2,811.3 L1420.2,813.5 L1420.2,815.8 L1420.2,818 L1420.2,820.3 L1420.2,822.5 L1420.2,824.8 L1420.1,827 L1420.1,829.3 L1420.1,831.5 L1420.1,833.8 L1420.1,836 L1420.1,838.3 L1420.1,840.5 L1420.1,842.8 L1420.1,845Z" fill="#ade5e6" stroke="#333333" stroke-width="1.9" stroke-linejoin="round"/>
<path d="M1420.9,233.8 L1420.9,235.1 L1420.9,236.4 L1420.9,237.8 L1420.8,239.1 L1420.8,240.4 L1420.7,241.7 L1420.6,243.1 L1420.5,244.4 L1420.3,245.7 L1420.2,247.1 L1419.9,248.4 L1419.7,249.7 L1419.3,251 L1418.9,252.3 L1418.4,253.5 L1417.8,254.7 L1417.1,255.8 L1416.3,256.9 L1415.5,258 L1414.6,259 L1413.7,260 L1412.7,260.9 L1411.7,261.8 L1410.6,262.6 L1409.6,263.5 L1408.5,264.2 L1407.4,265 L1406.3,265.7 L1405.1,266.4 L1404,267.1 L1402.8,267.8 L1401.7,268.4 L1400.5,269.1 L1399.3,269.7 L1398.2,270.3 L1397,271 L1395.8,271.6 L1394.6,272.2 L1393.5,272.9 L1392.3,273.5 L1391.1,274.2 L1390,274.9 L1388.9,275.6 L1387.7,276.3 L1386.6,277 L1385.5,277.8 L1384.5,278.6 L1383.4,279.4 L1382.4,280.2 L1381.3,281.1 L1380.3,281.9 L1379.3,282.8 L1378.3,283.7 L1377.3,284.6 L1376.3,285.5 L1375.3,286.4 L1374.4,287.4 L1373.4,288.3 L1372.5,289.3 L1371.7,290.3 L1370.8,291.4 L1370.1,292.4 L1369.3,293.5 L1368.6,294.7 L1367.9,295.8 L1367.3,297 L1366.6,298.1 L1366,299.3 L1365.3,300.5 L1364.6,301.6 L1363.9,302.8 L1363.2,303.9 L1362.4,305 L1361.6,306.1 L1360.7,307.1 L1359.9,308.1 L1358.9,309 L1357.9,309.9 L1356.9,310.7 L1355.8,311.5 L1354.7,312.3 L1353.6,313 L1352.5,313.7 L1351.3,314.3 L1350.1,315 L1348.9,315.6 L1347.8,316.3 L1346.6,316.9 L1345.4,317.6 L1344.2,318.2 L1343.1,318.9 L1341.9,319.5 L1340.7,320.2 L1339.6,320.8 L1338.4,321.5 L1337.3,322.1 L1336.1,322.8 L1334.9,323.4 L1333.8,324 L1332.6,324.7 L1331.5,325.4 L1330.4,326.1 L1329.3,326.9 L1328.3,327.8 L1327.3,328.7 L1326.3,329.7 L1325.4,330.8 L1324.7,332 L1324.1,333.2 L1323.7,334.5 L1323.6,335.8 L1323.8,337.1 L1324.2,338.3 L1324.8,339.6 L1325.6,340.8 L1326.5,341.8 L1327.4,342.8 L1328.5,343.7 L1329.6,344.4 L1330.7,345.1 L1331.9,345.7 L1333.1,346.3 L1334.4,346.8 L1335.6,347.3 L1336.9,347.7 L1338.2,348.2 L1339.5,348.6 L1340.7,349.1 L1342,349.5 L1343.2,350 L1344.5,350.4 L1345.7,350.9 L1347,351.3 L1348.2,351.8 L1349.5,352.2 L1350.8,352.6 L1352,353 L1353.3,353.4 L1354.6,353.8 L1355.8,354.2 L1357.1,354.6 L1358.4,354.9 L1359.7,355.3 L1361,355.7 L1362.3,356 L1363.5,356.4 L1364.8,356.8 L1366.1,357.2 L1367.4,357.6 L1368.6,358 L1369.9,358.4 L1371.2,358.9 L1372.4,359.3 L1373.7,359.8 L1374.9,360.3 L1376.1,360.8 L1377.4,361.3 L1378.6,361.8 L1379.8,362.4 L1381,362.9 L1382.2,363.5 L1383.4,364.1 L1384.6,364.7 L1385.8,365.3 L1387,366 L1388.1,366.7 L1389.2,367.4 L1390.3,368.2 L1391.4,369 L1392.5,369.8 L1393.5,370.6 L1394.5,371.5 L1395.4,372.5 L1396.4,373.5 L1397.2,374.5 L1398.1,375.5 L1398.9,376.6 L1399.6,377.7 L1400.3,378.8 L1401,380 L1401.6,381.1 L1402.3,382.3 L1402.9,383.5 L1403.5,384.7 L1404.1,385.9 L1404.7,387 L1405.4,388.2 L1406,389.4 L1406.7,390.5 L1407.4,391.7 L1408.1,392.8 L1408.7,394 L1409.4,395.1 L1410.1,396.3 L1410.7,397.4 L1411.4,398.6 L1412,399.8 L1412.7,400.9 L1413.3,402.1 L1413.8,403.3 L1414.4,404.6 L1414.9,405.8 L1415.3,407.1 L1415.7,408.4 L1416.1,409.7 L1416.3,411 L1416.6,412.3 L1416.7,413.6 L1416.8,414.9 L1416.8,416.3 L1416.7,417.6 L1416.6,418.9 L1416.4,420.2 L1416.2,421.6 L1415.9,422.9 L1415.6,424.2 L1415.3,425.5 L1415,426.8 L1414.7,428.1 L1414.4,429.4 L1414.1,430.7 L1413.9,432.1 L1413.7,433.4 L1413.5,434.7 L1413.4,436 L1413.3,437.3 L1413.3,438.7 L1413.3,440 L1413.4,441.3 L1413.5,442.7 L1413.6,444 L1413.8,445.3 L1414,446.6 L1414.1,448 L1414.3,449.3 L1414.5,450.6 L1414.7,451.9 L1415,453.2 L1415.2,454.6 L1415.4,455.9 L1415.7,457.2 L1416,458.5 L1416.2,459.8 L1416.5,461.1 L1416.9,462.4 L1417.2,463.7 L1417.5,465 L1417.8,466.3 L1418.1,467.6 L1418.4,468.9 L1418.7,470.2 L1419,471.5 L1419.3,472.8 L1419.5,474.1 L1419.7,475.4 L1420,476.7 L1420.1,478 L1420.3,479.4 L1420.4,480.7 L1420.6,482 L1420.7,483.3 L1420.8,484.7 L1420.9,486Z" fill="#fbcac6" stroke="#333333" stroke-width="1.9" stroke-linejoin="round"/>
<path d="M1633.5,263 L1633.5,265.2 L1633.5,267.5 L1633.5,269.7 L1633.5,272 L1633.6,274.2 L1633.6,276.5 L1633.6,278.7 L1633.7,281 L1633.7,283.2 L1633.7,285.5 L1633.8,287.7 L1633.8,290 L1633.8,292.2 L1633.9,294.5 L1633.9,296.7 L1634,299 L1634,301.2 L1634.1,303.4 L1634.2,305.7 L1634.3,307.9 L1634.3,310.2 L1634.4,312.4 L1634.5,314.7 L1634.6,316.9 L1634.7,319.2 L1634.9,321.4 L1635.1,323.7 L1635.3,325.9 L1635.5,328.2 L1635.7,330.4 L1636,332.7 L1636.3,334.9 L1636.5,337.2 L1636.8,339.4 L1637,341.6 L1637.3,343.9 L1637.7,346.1 L1638.1,348.4 L1638.6,350.6 L1639.3,352.9 L1639.9,355.1 L1640.4,357.4 L1641,359.6 L1641.5,361.9 L1642.1,364.1 L1642.6,366.4 L1643.2,368.6 L1643.7,370.9 L1644.3,373.1 L1644.9,375.4 L1645.5,377.6 L1646.2,379.8 L1646.9,382.1 L1647.6,384.3 L1648.2,386.6 L1648.9,388.8 L1649.5,391.1 L1650.1,393.3 L1650.7,395.6 L1651.4,397.8 L1652,400.1 L1652.5,402.3 L1653.1,404.6 L1653.6,406.8 L1654.1,409.1 L1654.6,411.3 L1655,413.6 L1655.4,415.8 L1655.8,418.1 L1656.2,420.3 L1656.5,422.5 L1656.9,424.8 L1657.2,427 L1657.4,429.3 L1657.7,431.5 L1657.9,433.8 L1658.1,436 L1658.4,438.3 L1658.6,440.5 L1658.7,442.8 L1658.9,445 L1659,447.3 L1659,449.5 L1659.1,451.8 L1659.1,454 L1659.1,456.3 L1659.1,458.5 L1659,460.7 L1658.8,463 L1658.7,465.2 L1658.5,467.5 L1658.3,469.7 L1658.1,472 L1657.8,474.2 L1657.6,476.5 L1657.3,478.7 L1657.1,481 L1656.8,483.2 L1656.5,485.5 L1656.2,487.7 L1655.8,490 L1655.5,492.2 L1655.1,494.5 L1654.7,496.7 L1654.3,498.9 L1653.9,501.2 L1653.4,503.4 L1653,505.7 L1652.5,507.9 L1652.1,510.2 L1651.7,512.4 L1651.4,514.7 L1651,516.9 L1650.6,519.2 L1650.3,521.4 L1650,523.7 L1649.7,525.9 L1649.5,528.2 L1649.3,530.4 L1649.1,532.7 L1649,534.9 L1648.8,537.1 L1648.7,539.4 L1648.6,541.6 L1648.5,543.9 L1648.4,546.1 L1648.3,548.4 L1648.3,550.6 L1648.3,552.9 L1648.3,555.1 L1648.4,557.4 L1648.5,559.6 L1648.6,561.9 L1648.7,564.1 L1648.9,566.4 L1649,568.6 L1649.2,570.9 L1649.3,573.1 L1649.6,575.3 L1649.8,577.6 L1650.1,579.8 L1650.5,582.1 L1650.8,584.3 L1651.2,586.6 L1651.6,588.8 L1651.9,591.1 L1652.2,593.3 L1652.5,595.6 L1652.8,597.8 L1653.1,600.1 L1653.5,602.3 L1653.8,604.6 L1654,606.8 L1654.3,609.1 L1654.6,611.3 L1654.8,613.5 L1655.1,615.8 L1655.3,618 L1655.6,620.3 L1655.8,622.5 L1656,624.8 L1656.2,627 L1656.3,629.3 L1656.4,631.5 L1656.4,633.8 L1656.4,636 L1656.3,638.3 L1656.3,640.5 L1656.2,642.8 L1656.1,645 L1656,647.3 L1655.9,649.5 L1655.8,651.7 L1655.7,654 L1655.5,656.2 L1655.3,658.5 L1655.1,660.7 L1654.8,663 L1654.5,665.2 L1654.2,667.5 L1653.9,669.7 L1653.6,672 L1653.2,674.2 L1652.8,676.5 L1652.4,678.7 L1652,681 L1651.6,683.2 L1651.1,685.5 L1650.7,687.7 L1650.2,689.9 L1649.7,692.2 L1649.3,694.4 L1648.7,696.7 L1648.2,698.9 L1647.7,701.2 L1647.1,703.4 L1646.6,705.7 L1646,707.9 L1645.5,710.2 L1644.9,712.4 L1644.3,714.7 L1643.7,716.9 L1643.1,719.2 L1642.5,721.4 L1642,723.7 L1641.5,725.9 L1641,728.2 L1640.6,730.4 L1640.1,732.6 L1639.7,734.9 L1639.3,737.1 L1638.9,739.4 L1638.5,741.6 L1638.1,743.9 L1637.7,746.1 L1637.4,748.4 L1637,750.6 L1636.6,752.9 L1636.3,755.1 L1636,757.4 L1635.7,759.6 L1635.5,761.9 L1635.3,764.1 L1635.1,766.4 L1635,768.6 L1634.8,770.8 L1634.6,773.1 L1634.5,775.3 L1634.4,777.6 L1634.3,779.8 L1634.2,782.1 L1634.1,784.3 L1634,786.6 L1634,788.8 L1633.9,791.1 L1633.9,793.3 L1633.8,795.6 L1633.8,797.8 L1633.8,800.1 L1633.7,802.3 L1633.7,804.6 L1633.7,806.8 L1633.6,809 L1633.6,811.3 L1633.6,813.5 L1633.6,815.8 L1633.6,818 L1633.6,820.3 L1633.6,822.5 L1633.6,824.8 L1633.5,827 L1633.5,829.3 L1633.5,831.5 L1633.5,833.8 L1633.5,836 L1633.5,838.3 L1633.5,840.5 L1633.5,842.8 L1633.5,845Z" fill="#ade5e6" stroke="#333333" stroke-width="1.9" stroke-linejoin="round"/>
<path d="M1633.5,322 L1633.5,323.3 L1633.4,324.6 L1633.4,325.9 L1633.4,327.2 L1633.4,328.5 L1633.3,329.9 L1633.3,331.2 L1633.3,332.5 L1633.2,333.8 L1633.2,335.1 L1633.2,336.5 L1633.1,337.8 L1633.1,339.1 L1633,340.4 L1632.8,341.8 L1632.7,343.1 L1632.5,344.3 L1632.2,345.6 L1631.9,346.9 L1631.5,348.1 L1631,349.3 L1630.5,350.6 L1630,351.8 L1629.4,353 L1628.8,354.2 L1628.3,355.4 L1627.7,356.6 L1627.2,357.8 L1626.8,359 L1626.3,360.3 L1625.9,361.5 L1625.6,362.8 L1625.3,364 L1625,365.3 L1624.8,366.6 L1624.7,368 L1624.6,369.3 L1624.6,370.6 L1624.6,371.9 L1624.6,373.2 L1624.7,374.5 L1624.9,375.9 L1625,377.2 L1625.2,378.5 L1625.4,379.8 L1625.6,381.1 L1625.8,382.4 L1626.1,383.6 L1626.4,384.9 L1626.6,386.2 L1626.9,387.5 L1627.3,388.8 L1627.6,390 L1628,391.3 L1628.3,392.6 L1628.7,393.8 L1629.1,395.1 L1629.4,396.4 L1629.7,397.7 L1629.9,399 L1630.1,400.3 L1630.2,401.6 L1630.3,402.9 L1630.3,404.2 L1630.2,405.5 L1630,406.8 L1629.8,408.1 L1629.5,409.4 L1629.1,410.7 L1628.7,411.9 L1628.2,413.2 L1627.7,414.4 L1627.1,415.6 L1626.5,416.7 L1625.9,417.9 L1625.3,419 L1624.6,420.2 L1623.9,421.3 L1623.2,422.4 L1622.6,423.5 L1621.9,424.6 L1621.2,425.8 L1620.5,426.9 L1619.8,428 L1619.1,429.1 L1618.5,430.3 L1617.8,431.4 L1617.2,432.6 L1616.5,433.7 L1615.9,434.8 L1615.2,436 L1614.5,437.1 L1613.8,438.2 L1613.1,439.4 L1612.4,440.5 L1611.7,441.6 L1610.9,442.7 L1610.2,443.7 L1609.3,444.8 L1608.5,445.8 L1607.6,446.7 L1606.7,447.7 L1605.8,448.6 L1604.8,449.4 L1603.8,450.3 L1602.7,451 L1601.6,451.8 L1600.5,452.5 L1599.4,453.2 L1598.3,453.9 L1597.1,454.6 L1595.9,455.2 L1594.8,455.8 L1593.6,456.5 L1592.4,457.1 L1591.3,457.6 L1590.1,458.2 L1588.9,458.8 L1587.7,459.3 L1586.5,459.8 L1585.3,460.3 L1584.1,460.8 L1582.8,461.3 L1581.6,461.8 L1580.4,462.2 L1579.1,462.7 L1577.9,463.1 L1576.7,463.5 L1575.4,464 L1574.2,464.4 L1572.9,464.8 L1571.7,465.2 L1570.4,465.6 L1569.1,466 L1567.9,466.4 L1566.6,466.7 L1565.4,467.2 L1564.1,467.6 L1562.9,468 L1561.6,468.4 L1560.4,468.8 L1559.1,469.2 L1557.9,469.6 L1556.7,470.1 L1555.4,470.5 L1554.2,470.9 L1553,471.4 L1551.7,471.9 L1550.5,472.4 L1549.3,472.9 L1548.1,473.4 L1546.9,474 L1545.7,474.5 L1544.6,475.2 L1543.4,475.8 L1542.3,476.5 L1541.2,477.3 L1540.2,478.1 L1539.2,479.1 L1538.4,480.1 L1537.7,481.2 L1537.1,482.4 L1536.8,483.7 L1536.7,485 L1537,486.3 L1537.6,487.5 L1538.3,488.6 L1539.3,489.7 L1540.3,490.6 L1541.3,491.5 L1542.4,492.4 L1543.5,493.1 L1544.6,493.8 L1545.7,494.4 L1546.9,495 L1548,495.6 L1549.2,496.1 L1550.4,496.7 L1551.6,497.2 L1552.8,497.8 L1554,498.3 L1555.2,498.9 L1556.4,499.5 L1557.5,500.1 L1558.7,500.7 L1559.9,501.3 L1561,502 L1562.1,502.7 L1563.2,503.5 L1564.2,504.2 L1565.3,505 L1566.3,505.9 L1567.3,506.7 L1568.3,507.6 L1569.2,508.5 L1570.2,509.5 L1571.1,510.4 L1572,511.4 L1572.9,512.4 L1573.7,513.4 L1574.5,514.4 L1575.3,515.5 L1576.1,516.5 L1576.8,517.6 L1577.5,518.8 L1578.1,519.9 L1578.8,521 L1579.4,522.2 L1580.1,523.3 L1580.8,524.4 L1581.5,525.5 L1582.3,526.6 L1583.1,527.6 L1583.9,528.6 L1584.8,529.6 L1585.7,530.6 L1586.5,531.6 L1587.4,532.6 L1588.3,533.6 L1589.2,534.5 L1590.1,535.5 L1591,536.4 L1591.9,537.4 L1592.9,538.3 L1593.8,539.2 L1594.8,540.1 L1595.8,541 L1596.8,541.8 L1597.8,542.6 L1598.8,543.4 L1599.9,544.2 L1601,545 L1602.1,545.7 L1603.2,546.4 L1604.3,547.2 L1605.4,547.9 L1606.5,548.6 L1607.6,549.3 L1608.7,550 L1609.8,550.7 L1610.9,551.4 L1612,552 L1613.2,552.7 L1614.3,553.4 L1615.4,554.1 L1616.5,554.8 L1617.6,555.5 L1618.7,556.3 L1619.8,557 L1620.9,557.8 L1622,558.5 L1623.1,559.3 L1624.1,560.2 L1625,561.1 L1626,562 L1626.8,563 L1627.6,564 L1628.4,565.1 L1629,566.2 L1629.6,567.4 L1630.2,568.6 L1630.7,569.9 L1631.1,571.1 L1631.5,572.4 L1631.8,573.7 L1632.1,575 L1632.3,576.3 L1632.5,577.6 L1632.6,578.9 L1632.7,580.2 L1632.8,581.5 L1632.9,582.8 L1633,584.1 L1633.1,585.4 L1633.2,586.8 L1633.2,588.1 L1633.3,589.4 L1633.3,590.7 L1633.4,592Z" fill="#fbcac6" stroke="#333333" stroke-width="1.9" stroke-linejoin="round"/>
<g fill="#f8766d" fill-opacity="0.55" stroke="#f8766d" stroke-opacity="0.55" stroke-width="1">
<circle cx="214.2" cy="260.5" r="4.35"/>
<circle cx="205" cy="268" r="4.35"/>
<circle cx="196.2" cy="279.5" r="4.35"/>
<circle cx="215.5" cy="282.5" r="4.35"/>
<circle cx="205" cy="289.2" r="4.35"/>
<circle cx="200.8" cy="294.5" r="4.35"/>
<circle cx="208.8" cy="297" r="4.35"/>
<circle cx="197.5" cy="302.5" r="4.35"/>
<circle cx="202.5" cy="305" r="4.35"/>
<circle cx="192.5" cy="308.8" r="4.35"/>
<circle cx="218.8" cy="309.5" r="4.35"/>
<circle cx="213.8" cy="311.2" r="4.35"/>
<circle cx="208.8" cy="315" r="4.35"/>
<circle cx="205" cy="320" r="4.35"/>
<circle cx="202" cy="323" r="4.35"/>
<circle cx="203.8" cy="331.2" r="4.35"/>
<circle cx="192" cy="332.5" r="4.35"/>
<circle cx="193" cy="338" r="4.35"/>
<circle cx="211.2" cy="342" r="4.35"/>
<circle cx="208" cy="345" r="4.35"/>
<circle cx="196.2" cy="351.8" r="4.35"/>
<circle cx="197.5" cy="365" r="4.35"/>
<circle cx="217" cy="368" r="4.35"/>
<circle cx="217" cy="374.5" r="4.35"/>
<circle cx="205" cy="382" r="4.35"/>
<circle cx="205.8" cy="388.8" r="4.35"/>
<circle cx="210" cy="422" r="4.35"/>
<circle cx="199" cy="286" r="4.35"/>
<circle cx="211" cy="303" r="4.35"/>
<circle cx="195" cy="318" r="4.35"/>
<circle cx="207" cy="327" r="4.35"/>
<circle cx="199" cy="312" r="4.35"/>
<circle cx="204" cy="300" r="4.35"/>
</g>
<g fill="#f8766d" fill-opacity="0.55" stroke="#f8766d" stroke-opacity="0.55" stroke-width="1">
<circle cx="481.2" cy="398.8" r="4.35"/>
<circle cx="483" cy="431.2" r="4.35"/>
<circle cx="476.8" cy="437" r="4.35"/>
<circle cx="475" cy="444.5" r="4.35"/>
<circle cx="469.5" cy="450.8" r="4.35"/>
<circle cx="487.5" cy="455.8" r="4.35"/>
<circle cx="492.5" cy="470" r="4.35"/>
<circle cx="470" cy="478.8" r="4.35"/>
<circle cx="475" cy="477.5" r="4.35"/>
<circle cx="481.2" cy="485.5" r="4.35"/>
<circle cx="488.8" cy="490" r="4.35"/>
<circle cx="477.5" cy="496.2" r="4.35"/>
<circle cx="490" cy="496.2" r="4.35"/>
<circle cx="470" cy="507.5" r="4.35"/>
<circle cx="478.8" cy="506.2" r="4.35"/>
<circle cx="486.2" cy="510" r="4.35"/>
<circle cx="471.2" cy="511.2" r="4.35"/>
<circle cx="475" cy="515" r="4.35"/>
<circle cx="492.5" cy="518.8" r="4.35"/>
<circle cx="470" cy="522.5" r="4.35"/>
<circle cx="482.5" cy="526.2" r="4.35"/>
<circle cx="478.8" cy="531.2" r="4.35"/>
<circle cx="495" cy="535" r="4.35"/>
<circle cx="491.2" cy="541.2" r="4.35"/>
<circle cx="473.8" cy="541.2" r="4.35"/>
<circle cx="470" cy="550.5" r="4.35"/>
<circle cx="484.2" cy="560" r="4.35"/>
<circle cx="480" cy="502" r="4.35"/>
<circle cx="484" cy="516" r="4.35"/>
<circle cx="476" cy="489" r="4.35"/>
<circle cx="487" cy="503" r="4.35"/>
</g>
<g fill="#00bfc4" fill-opacity="0.5" stroke="#00bfc4" stroke-opacity="0.5" stroke-width="1">
<circle cx="309.2" cy="311.2" r="4.35"/>
<circle cx="303" cy="365.8" r="4.35"/>
<circle cx="317.5" cy="393.8" r="4.35"/>
<circle cx="309.2" cy="398.8" r="4.35"/>
<circle cx="308" cy="426.8" r="4.35"/>
<circle cx="308.2" cy="450.5" r="4.35"/>
<circle cx="323.8" cy="452.5" r="4.35"/>
<circle cx="310" cy="463.8" r="4.35"/>
<circle cx="307" cy="466.2" r="4.35"/>
<circle cx="321.2" cy="466.2" r="4.35"/>
<circle cx="318.8" cy="478.8" r="4.35"/>
<circle cx="319.2" cy="493.8" r="4.35"/>
<circle cx="315.5" cy="508" r="4.35"/>
<circle cx="315" cy="517.5" r="4.35"/>
<circle cx="325.5" cy="519" r="4.35"/>
<circle cx="303.2" cy="546.2" r="4.35"/>
<circle cx="303.8" cy="553" r="4.35"/>
<circle cx="321.2" cy="551.8" r="4.35"/>
<circle cx="325" cy="587" r="4.35"/>
<circle cx="324" cy="596.2" r="4.35"/>
<circle cx="311.8" cy="603.2" r="4.35"/>
<circle cx="318.8" cy="616.2" r="4.35"/>
<circle cx="320" cy="620" r="4.35"/>
<circle cx="302.5" cy="621.2" r="4.35"/>
<circle cx="322.5" cy="621.2" r="4.35"/>
<circle cx="310.8" cy="635.8" r="4.35"/>
<circle cx="327" cy="657.5" r="4.35"/>
<circle cx="328" cy="666.5" r="4.35"/>
<circle cx="304.5" cy="667.5" r="4.35"/>
<circle cx="310" cy="677.5" r="4.35"/>
<circle cx="305" cy="690.5" r="4.35"/>
</g>
<g fill="#00bfc4" fill-opacity="0.5" stroke="#00bfc4" stroke-opacity="0.5" stroke-width="1">
<circle cx="596.8" cy="312.5" r="4.35"/>
<circle cx="591.2" cy="365" r="4.35"/>
<circle cx="588.8" cy="394.5" r="4.35"/>
<circle cx="598.8" cy="399.2" r="4.35"/>
<circle cx="583.8" cy="426.2" r="4.35"/>
<circle cx="592.5" cy="452" r="4.35"/>
<circle cx="601.8" cy="451.2" r="4.35"/>
<circle cx="582.5" cy="466.2" r="4.35"/>
<circle cx="598.8" cy="465" r="4.35"/>
<circle cx="596" cy="461" r="4.35"/>
<circle cx="580" cy="478.8" r="4.35"/>
<circle cx="593" cy="495" r="4.35"/>
<circle cx="603.8" cy="507.5" r="4.35"/>
<circle cx="581.2" cy="517.5" r="4.35"/>
<circle cx="576" cy="518" r="4.35"/>
<circle cx="580" cy="551.8" r="4.35"/>
<circle cx="596.2" cy="545.8" r="4.35"/>
<circle cx="605" cy="551.2" r="4.35"/>
<circle cx="595.8" cy="586.2" r="4.35"/>
<circle cx="601.8" cy="596.2" r="4.35"/>
<circle cx="595" cy="604.2" r="4.35"/>
<circle cx="587.5" cy="616.2" r="4.35"/>
<circle cx="597.5" cy="621.8" r="4.35"/>
<circle cx="605.5" cy="620.8" r="4.35"/>
<circle cx="596" cy="620" r="4.35"/>
<circle cx="593" cy="635.8" r="4.35"/>
<circle cx="585.8" cy="657" r="4.35"/>
<circle cx="595" cy="666.2" r="4.35"/>
<circle cx="605.5" cy="668.2" r="4.35"/>
<circle cx="599.5" cy="678.8" r="4.35"/>
<circle cx="590" cy="690.5" r="4.35"/>
</g>
<g fill="#f8766d" fill-opacity="0.55" stroke="#f8766d" stroke-opacity="0.55" stroke-width="1">
<circle cx="892.5" cy="276.2" r="4.35"/>
<circle cx="897.5" cy="275" r="4.35"/>
<circle cx="900" cy="278.8" r="4.35"/>
<circle cx="891.2" cy="283.8" r="4.35"/>
<circle cx="905" cy="290" r="4.35"/>
<circle cx="896.2" cy="293.8" r="4.35"/>
<circle cx="900" cy="297.5" r="4.35"/>
<circle cx="893.8" cy="301.2" r="4.35"/>
<circle cx="902.5" cy="302.5" r="4.35"/>
<circle cx="890" cy="306.2" r="4.35"/>
<circle cx="895" cy="310" r="4.35"/>
<circle cx="888.8" cy="315" r="4.35"/>
<circle cx="893.8" cy="317.5" r="4.35"/>
<circle cx="900" cy="323.8" r="4.35"/>
<circle cx="905" cy="326.2" r="4.35"/>
<circle cx="892.5" cy="326.2" r="4.35"/>
<circle cx="897.5" cy="330" r="4.35"/>
<circle cx="887.5" cy="332.5" r="4.35"/>
<circle cx="902.5" cy="332.5" r="4.35"/>
<circle cx="907.5" cy="335" r="4.35"/>
<circle cx="892.5" cy="336.2" r="4.35"/>
<circle cx="897.5" cy="340" r="4.35"/>
<circle cx="887.5" cy="340" r="4.35"/>
<circle cx="903.8" cy="341.2" r="4.35"/>
<circle cx="907.5" cy="343.8" r="4.35"/>
<circle cx="893.8" cy="345" r="4.35"/>
<circle cx="900" cy="347.5" r="4.35"/>
<circle cx="890" cy="347.5" r="4.35"/>
<circle cx="906.2" cy="351.2" r="4.35"/>
<circle cx="896.2" cy="353.8" r="4.35"/>
<circle cx="902.5" cy="357.5" r="4.35"/>
<circle cx="898.8" cy="360" r="4.35"/>
<circle cx="905" cy="358.8" r="4.35"/>
<circle cx="891.2" cy="375" r="4.35"/>
<circle cx="888.8" cy="383.8" r="4.35"/>
<circle cx="901.2" cy="380" r="4.35"/>
<circle cx="904.5" cy="396.2" r="4.35"/>
<circle cx="898" cy="437.5" r="4.35"/>
<circle cx="891.2" cy="451.2" r="4.35"/>
<circle cx="895" cy="328" r="4.35"/>
<circle cx="899" cy="334" r="4.35"/>
<circle cx="904" cy="338" r="4.35"/>
<circle cx="894" cy="341" r="4.35"/>
<circle cx="899" cy="344" r="4.35"/>
<circle cx="889" cy="336" r="4.35"/>
<circle cx="905" cy="331" r="4.35"/>
<circle cx="896" cy="349" r="4.35"/>
<circle cx="902" cy="352" r="4.35"/>
<circle cx="893" cy="333" r="4.35"/>
<circle cx="900" cy="338" r="4.35"/>
<circle cx="896" cy="322" r="4.35"/>
<circle cx="903" cy="346" r="4.35"/>
<circle cx="891" cy="343" r="4.35"/>
<circle cx="898" cy="326" r="4.35"/>
<circle cx="894" cy="288" r="4.35"/>
<circle cx="899" cy="285" r="4.35"/>
<circle cx="897" cy="305" r="4.35"/>
<circle cx="892" cy="296" r="4.35"/>
<circle cx="901" cy="292" r="4.35"/>
<circle cx="896" cy="281" r="4.35"/>
<circle cx="894" cy="279" r="4.35"/>
<circle cx="897" cy="333" r="4.35"/>
<circle cx="901" cy="337" r="4.35"/>
<circle cx="895" cy="339" r="4.35"/>
<circle cx="899" cy="342" r="4.35"/>
<circle cx="903" cy="335" r="4.35"/>
<circle cx="897" cy="346" r="4.35"/>
<circle cx="893" cy="330" r="4.35"/>
<circle cx="901" cy="330" r="4.35"/>
<circle cx="898" cy="352" r="4.35"/>
<circle cx="903" cy="350" r="4.35"/>
</g>
<g fill="#f8766d" fill-opacity="0.55" stroke="#f8766d" stroke-opacity="0.55" stroke-width="1">
<circle cx="1104.2" cy="368.2" r="4.35"/>
<circle cx="1113.2" cy="382.5" r="4.35"/>
<circle cx="1104.5" cy="424.2" r="4.35"/>
<circle cx="1103" cy="436.2" r="4.35"/>
<circle cx="1113.8" cy="441.2" r="4.35"/>
<circle cx="1102" cy="444.2" r="4.35"/>
<circle cx="1098.8" cy="460" r="4.35"/>
<circle cx="1117.5" cy="461.2" r="4.35"/>
<circle cx="1107.5" cy="467.5" r="4.35"/>
<circle cx="1100" cy="470" r="4.35"/>
<circle cx="1107.5" cy="471.2" r="4.35"/>
<circle cx="1115" cy="475" r="4.35"/>
<circle cx="1102.5" cy="478.8" r="4.35"/>
<circle cx="1110" cy="481.2" r="4.35"/>
<circle cx="1118.8" cy="481.2" r="4.35"/>
<circle cx="1105" cy="486.2" r="4.35"/>
<circle cx="1113.8" cy="487.5" r="4.35"/>
<circle cx="1100" cy="495" r="4.35"/>
<circle cx="1110" cy="495" r="4.35"/>
<circle cx="1116.2" cy="492.5" r="4.35"/>
<circle cx="1101.2" cy="505" r="4.35"/>
<circle cx="1107.5" cy="510" r="4.35"/>
<circle cx="1120" cy="521.2" r="4.35"/>
<circle cx="1110" cy="520" r="4.35"/>
<circle cx="1113.8" cy="527.5" r="4.35"/>
<circle cx="1116.2" cy="532.5" r="4.35"/>
<circle cx="1102.5" cy="533.8" r="4.35"/>
<circle cx="1105" cy="540" r="4.35"/>
<circle cx="1111.2" cy="541.2" r="4.35"/>
<circle cx="1103.8" cy="547" r="4.35"/>
<circle cx="1104" cy="474" r="4.35"/>
<circle cx="1109" cy="477" r="4.35"/>
<circle cx="1113" cy="480" r="4.35"/>
<circle cx="1106" cy="483" r="4.35"/>
<circle cx="1111" cy="485" r="4.35"/>
<circle cx="1103" cy="489" r="4.35"/>
<circle cx="1108" cy="491" r="4.35"/>
<circle cx="1114" cy="494" r="4.35"/>
<circle cx="1105" cy="498" r="4.35"/>
<circle cx="1111" cy="500" r="4.35"/>
<circle cx="1107" cy="503" r="4.35"/>
<circle cx="1103" cy="500" r="4.35"/>
<circle cx="1113" cy="505" r="4.35"/>
<circle cx="1109" cy="514" r="4.35"/>
<circle cx="1105" cy="517" r="4.35"/>
<circle cx="1112" cy="523" r="4.35"/>
<circle cx="1108" cy="528" r="4.35"/>
<circle cx="1115" cy="513" r="4.35"/>
<circle cx="1104" cy="482" r="4.35"/>
<circle cx="1116" cy="486" r="4.35"/>
<circle cx="1101" cy="476" r="4.35"/>
<circle cx="1112" cy="470" r="4.35"/>
<circle cx="1107" cy="536" r="4.35"/>
<circle cx="1118" cy="528" r="4.35"/>
<circle cx="1106" cy="472" r="4.35"/>
<circle cx="1110" cy="476" r="4.35"/>
<circle cx="1108" cy="484" r="4.35"/>
<circle cx="1112" cy="489" r="4.35"/>
<circle cx="1106" cy="494" r="4.35"/>
<circle cx="1110" cy="498" r="4.35"/>
<circle cx="1114" cy="484" r="4.35"/>
<circle cx="1104" cy="488" r="4.35"/>
<circle cx="1109" cy="480" r="4.35"/>
<circle cx="1112" cy="494" r="4.35"/>
</g>
<g fill="#00bfc4" fill-opacity="0.5" stroke="#00bfc4" stroke-opacity="0.5" stroke-width="1">
<circle cx="978.8" cy="390.5" r="4.35"/>
<circle cx="979.5" cy="402.5" r="4.35"/>
<circle cx="986.2" cy="402" r="4.35"/>
<circle cx="983.8" cy="411.2" r="4.35"/>
<circle cx="972" cy="422.5" r="4.35"/>
<circle cx="990" cy="425" r="4.35"/>
<circle cx="987.5" cy="428.8" r="4.35"/>
<circle cx="976.2" cy="435" r="4.35"/>
<circle cx="971.2" cy="440" r="4.35"/>
<circle cx="990" cy="449.5" r="4.35"/>
<circle cx="972.5" cy="457.5" r="4.35"/>
<circle cx="987.5" cy="456.2" r="4.35"/>
<circle cx="987" cy="463.8" r="4.35"/>
<circle cx="972.5" cy="465" r="4.35"/>
<circle cx="975" cy="471.2" r="4.35"/>
<circle cx="991.2" cy="484.5" r="4.35"/>
<circle cx="976.2" cy="493.8" r="4.35"/>
<circle cx="973" cy="508" r="4.35"/>
<circle cx="983.2" cy="517.5" r="4.35"/>
<circle cx="985.8" cy="526.2" r="4.35"/>
<circle cx="986.8" cy="539.5" r="4.35"/>
<circle cx="973.8" cy="547.5" r="4.35"/>
<circle cx="988" cy="566.8" r="4.35"/>
<circle cx="982" cy="585" r="4.35"/>
<circle cx="981.2" cy="593" r="4.35"/>
<circle cx="986.8" cy="613" r="4.35"/>
<circle cx="980" cy="616.2" r="4.35"/>
<circle cx="973.8" cy="618.8" r="4.35"/>
<circle cx="971.2" cy="623.8" r="4.35"/>
<circle cx="981.8" cy="626.2" r="4.35"/>
<circle cx="990" cy="631.2" r="4.35"/>
<circle cx="983" cy="644.2" r="4.35"/>
<circle cx="987.5" cy="656.2" r="4.35"/>
<circle cx="987.5" cy="660" r="4.35"/>
<circle cx="986.2" cy="663.8" r="4.35"/>
<circle cx="978.8" cy="671.2" r="4.35"/>
<circle cx="982.5" cy="672.5" r="4.35"/>
<circle cx="977" cy="678.8" r="4.35"/>
<circle cx="982.5" cy="692" r="4.35"/>
<circle cx="978" cy="700" r="4.35"/>
<circle cx="991.2" cy="718.2" r="4.35"/>
<circle cx="973" cy="424" r="4.35"/>
<circle cx="974" cy="462" r="4.35"/>
<circle cx="976" cy="468" r="4.35"/>
<circle cx="976" cy="617" r="4.35"/>
<circle cx="988" cy="658" r="4.35"/>
<circle cx="980" cy="671" r="4.35"/>
<circle cx="982" cy="693" r="4.35"/>
</g>
<g fill="#00bfc4" fill-opacity="0.5" stroke="#00bfc4" stroke-opacity="0.5" stroke-width="1">
<circle cx="1189.2" cy="390" r="4.35"/>
<circle cx="1190" cy="402" r="4.35"/>
<circle cx="1204.5" cy="402.5" r="4.35"/>
<circle cx="1195" cy="411.2" r="4.35"/>
<circle cx="1187.5" cy="421.2" r="4.35"/>
<circle cx="1192.5" cy="426.2" r="4.35"/>
<circle cx="1200.8" cy="429.2" r="4.35"/>
<circle cx="1186.2" cy="435" r="4.35"/>
<circle cx="1187.5" cy="440.8" r="4.35"/>
<circle cx="1197.5" cy="449.5" r="4.35"/>
<circle cx="1197.5" cy="456.2" r="4.35"/>
<circle cx="1203.8" cy="458.8" r="4.35"/>
<circle cx="1187.5" cy="463.8" r="4.35"/>
<circle cx="1200" cy="465" r="4.35"/>
<circle cx="1193.8" cy="468.8" r="4.35"/>
<circle cx="1185" cy="472" r="4.35"/>
<circle cx="1197.5" cy="483.8" r="4.35"/>
<circle cx="1192.5" cy="492.5" r="4.35"/>
<circle cx="1203.8" cy="493.8" r="4.35"/>
<circle cx="1190" cy="508.8" r="4.35"/>
<circle cx="1197.5" cy="517.5" r="4.35"/>
<circle cx="1203" cy="525.5" r="4.35"/>
<circle cx="1201.8" cy="538.8" r="4.35"/>
<circle cx="1193.2" cy="547" r="4.35"/>
<circle cx="1198.2" cy="567" r="4.35"/>
<circle cx="1195" cy="585.8" r="4.35"/>
<circle cx="1195" cy="593.2" r="4.35"/>
<circle cx="1186.2" cy="613" r="4.35"/>
<circle cx="1192.5" cy="617.5" r="4.35"/>
<circle cx="1196.2" cy="621.2" r="4.35"/>
<circle cx="1202.5" cy="626.2" r="4.35"/>
<circle cx="1193.8" cy="631.2" r="4.35"/>
<circle cx="1191.2" cy="644.2" r="4.35"/>
<circle cx="1193.8" cy="656.2" r="4.35"/>
<circle cx="1187.5" cy="659.2" r="4.35"/>
<circle cx="1200" cy="659.2" r="4.35"/>
<circle cx="1196.2" cy="671.2" r="4.35"/>
<circle cx="1187.5" cy="672" r="4.35"/>
<circle cx="1192.5" cy="678.8" r="4.35"/>
<circle cx="1185" cy="691.2" r="4.35"/>
<circle cx="1191.2" cy="692.5" r="4.35"/>
<circle cx="1187" cy="701.2" r="4.35"/>
<circle cx="1185" cy="718.8" r="4.35"/>
<circle cx="1188" cy="423" r="4.35"/>
<circle cx="1196" cy="462" r="4.35"/>
<circle cx="1194" cy="620" r="4.35"/>
<circle cx="1194" cy="658" r="4.35"/>
<circle cx="1192" cy="674" r="4.35"/>
<circle cx="1189" cy="693" r="4.35"/>
</g>
<g fill="#f8766d" fill-opacity="0.55" stroke="#f8766d" stroke-opacity="0.55" stroke-width="1">
<circle cx="1373.5" cy="276.2" r="4.35"/>
<circle cx="1378.5" cy="275" r="4.35"/>
<circle cx="1381" cy="278.8" r="4.35"/>
<circle cx="1372.2" cy="283.8" r="4.35"/>
<circle cx="1386" cy="290" r="4.35"/>
<circle cx="1377.2" cy="293.8" r="4.35"/>
<circle cx="1381" cy="297.5" r="4.35"/>
<circle cx="1374.8" cy="301.2" r="4.35"/>
<circle cx="1383.5" cy="302.5" r="4.35"/>
<circle cx="1371" cy="306.2" r="4.35"/>
<circle cx="1376" cy="310" r="4.35"/>
<circle cx="1369.8" cy="315" r="4.35"/>
<circle cx="1374.8" cy="317.5" r="4.35"/>
<circle cx="1381" cy="323.8" r="4.35"/>
<circle cx="1386" cy="326.2" r="4.35"/>
<circle cx="1373.5" cy="326.2" r="4.35"/>
<circle cx="1378.5" cy="330" r="4.35"/>
<circle cx="1368.5" cy="332.5" r="4.35"/>
<circle cx="1383.5" cy="332.5" r="4.35"/>
<circle cx="1388.5" cy="335" r="4.35"/>
<circle cx="1373.5" cy="336.2" r="4.35"/>
<circle cx="1378.5" cy="340" r="4.35"/>
<circle cx="1368.5" cy="340" r="4.35"/>
<circle cx="1384.8" cy="341.2" r="4.35"/>
<circle cx="1388.5" cy="343.8" r="4.35"/>
<circle cx="1374.8" cy="345" r="4.35"/>
<circle cx="1381" cy="347.5" r="4.35"/>
<circle cx="1371" cy="347.5" r="4.35"/>
<circle cx="1387.2" cy="351.2" r="4.35"/>
<circle cx="1377.2" cy="353.8" r="4.35"/>
<circle cx="1383.5" cy="357.5" r="4.35"/>
<circle cx="1379.8" cy="360" r="4.35"/>
<circle cx="1386" cy="358.8" r="4.35"/>
<circle cx="1372.2" cy="375" r="4.35"/>
<circle cx="1369.8" cy="383.8" r="4.35"/>
<circle cx="1382.2" cy="380" r="4.35"/>
<circle cx="1385.5" cy="396.2" r="4.35"/>
<circle cx="1379" cy="437.5" r="4.35"/>
<circle cx="1372.2" cy="451.2" r="4.35"/>
<circle cx="1376" cy="328" r="4.35"/>
<circle cx="1380" cy="334" r="4.35"/>
<circle cx="1385" cy="338" r="4.35"/>
<circle cx="1375" cy="341" r="4.35"/>
<circle cx="1380" cy="344" r="4.35"/>
<circle cx="1370" cy="336" r="4.35"/>
<circle cx="1386" cy="331" r="4.35"/>
<circle cx="1377" cy="349" r="4.35"/>
<circle cx="1383" cy="352" r="4.35"/>
<circle cx="1374" cy="333" r="4.35"/>
<circle cx="1381" cy="338" r="4.35"/>
<circle cx="1377" cy="322" r="4.35"/>
<circle cx="1384" cy="346" r="4.35"/>
<circle cx="1372" cy="343" r="4.35"/>
<circle cx="1379" cy="326" r="4.35"/>
<circle cx="1375" cy="288" r="4.35"/>
<circle cx="1380" cy="285" r="4.35"/>
<circle cx="1378" cy="305" r="4.35"/>
<circle cx="1373" cy="296" r="4.35"/>
<circle cx="1382" cy="292" r="4.35"/>
<circle cx="1377" cy="281" r="4.35"/>
<circle cx="1375" cy="279" r="4.35"/>
<circle cx="1378" cy="333" r="4.35"/>
<circle cx="1382" cy="337" r="4.35"/>
<circle cx="1376" cy="339" r="4.35"/>
<circle cx="1380" cy="342" r="4.35"/>
<circle cx="1384" cy="335" r="4.35"/>
<circle cx="1378" cy="346" r="4.35"/>
<circle cx="1374" cy="330" r="4.35"/>
<circle cx="1382" cy="330" r="4.35"/>
<circle cx="1379" cy="352" r="4.35"/>
<circle cx="1384" cy="350" r="4.35"/>
</g>
<g fill="#f8766d" fill-opacity="0.55" stroke="#f8766d" stroke-opacity="0.55" stroke-width="1">
<circle cx="1585.2" cy="368.2" r="4.35"/>
<circle cx="1594.2" cy="382.5" r="4.35"/>
<circle cx="1585.5" cy="424.2" r="4.35"/>
<circle cx="1584" cy="436.2" r="4.35"/>
<circle cx="1594.8" cy="441.2" r="4.35"/>
<circle cx="1583" cy="444.2" r="4.35"/>
<circle cx="1579.8" cy="460" r="4.35"/>
<circle cx="1598.5" cy="461.2" r="4.35"/>
<circle cx="1588.5" cy="467.5" r="4.35"/>
<circle cx="1581" cy="470" r="4.35"/>
<circle cx="1588.5" cy="471.2" r="4.35"/>
<circle cx="1596" cy="475" r="4.35"/>
<circle cx="1583.5" cy="478.8" r="4.35"/>
<circle cx="1591" cy="481.2" r="4.35"/>
<circle cx="1599.8" cy="481.2" r="4.35"/>
<circle cx="1586" cy="486.2" r="4.35"/>
<circle cx="1594.8" cy="487.5" r="4.35"/>
<circle cx="1581" cy="495" r="4.35"/>
<circle cx="1591" cy="495" r="4.35"/>
<circle cx="1597.2" cy="492.5" r="4.35"/>
<circle cx="1582.2" cy="505" r="4.35"/>
<circle cx="1588.5" cy="510" r="4.35"/>
<circle cx="1601" cy="521.2" r="4.35"/>
<circle cx="1591" cy="520" r="4.35"/>
<circle cx="1594.8" cy="527.5" r="4.35"/>
<circle cx="1597.2" cy="532.5" r="4.35"/>
<circle cx="1583.5" cy="533.8" r="4.35"/>
<circle cx="1586" cy="540" r="4.35"/>
<circle cx="1592.2" cy="541.2" r="4.35"/>
<circle cx="1584.8" cy="547" r="4.35"/>
<circle cx="1585" cy="474" r="4.35"/>
<circle cx="1590" cy="477" r="4.35"/>
<circle cx="1594" cy="480" r="4.35"/>
<circle cx="1587" cy="483" r="4.35"/>
<circle cx="1592" cy="485" r="4.35"/>
<circle cx="1584" cy="489" r="4.35"/>
<circle cx="1589" cy="491" r="4.35"/>
<circle cx="1595" cy="494" r="4.35"/>
<circle cx="1586" cy="498" r="4.35"/>
<circle cx="1592" cy="500" r="4.35"/>
<circle cx="1588" cy="503" r="4.35"/>
<circle cx="1584" cy="500" r="4.35"/>
<circle cx="1594" cy="505" r="4.35"/>
<circle cx="1590" cy="514" r="4.35"/>
<circle cx="1586" cy="517" r="4.35"/>
<circle cx="1593" cy="523" r="4.35"/>
<circle cx="1589" cy="528" r="4.35"/>
<circle cx="1596" cy="513" r="4.35"/>
<circle cx="1585" cy="482" r="4.35"/>
<circle cx="1597" cy="486" r="4.35"/>
<circle cx="1582" cy="476" r="4.35"/>
<circle cx="1593" cy="470" r="4.35"/>
<circle cx="1588" cy="536" r="4.35"/>
<circle cx="1599" cy="528" r="4.35"/>
<circle cx="1587" cy="472" r="4.35"/>
<circle cx="1591" cy="476" r="4.35"/>
<circle cx="1589" cy="484" r="4.35"/>
<circle cx="1593" cy="489" r="4.35"/>
<circle cx="1587" cy="494" r="4.35"/>
<circle cx="1591" cy="498" r="4.35"/>
<circle cx="1595" cy="484" r="4.35"/>
<circle cx="1585" cy="488" r="4.35"/>
<circle cx="1590" cy="480" r="4.35"/>
<circle cx="1593" cy="494" r="4.35"/>
</g>
<g fill="#00bfc4" fill-opacity="0.5" stroke="#00bfc4" stroke-opacity="0.5" stroke-width="1">
<circle cx="1459.8" cy="390.5" r="4.35"/>
<circle cx="1460.5" cy="402.5" r="4.35"/>
<circle cx="1467.2" cy="402" r="4.35"/>
<circle cx="1464.8" cy="411.2" r="4.35"/>
<circle cx="1453" cy="422.5" r="4.35"/>
<circle cx="1471" cy="425" r="4.35"/>
<circle cx="1468.5" cy="428.8" r="4.35"/>
<circle cx="1457.2" cy="435" r="4.35"/>
<circle cx="1452.2" cy="440" r="4.35"/>
<circle cx="1471" cy="449.5" r="4.35"/>
<circle cx="1453.5" cy="457.5" r="4.35"/>
<circle cx="1468.5" cy="456.2" r="4.35"/>
<circle cx="1468" cy="463.8" r="4.35"/>
<circle cx="1453.5" cy="465" r="4.35"/>
<circle cx="1456" cy="471.2" r="4.35"/>
<circle cx="1472.2" cy="484.5" r="4.35"/>
<circle cx="1457.2" cy="493.8" r="4.35"/>
<circle cx="1454" cy="508" r="4.35"/>
<circle cx="1464.2" cy="517.5" r="4.35"/>
<circle cx="1466.8" cy="526.2" r="4.35"/>
<circle cx="1467.8" cy="539.5" r="4.35"/>
<circle cx="1454.8" cy="547.5" r="4.35"/>
<circle cx="1469" cy="566.8" r="4.35"/>
<circle cx="1463" cy="585" r="4.35"/>
<circle cx="1462.2" cy="593" r="4.35"/>
<circle cx="1467.8" cy="613" r="4.35"/>
<circle cx="1461" cy="616.2" r="4.35"/>
<circle cx="1454.8" cy="618.8" r="4.35"/>
<circle cx="1452.2" cy="623.8" r="4.35"/>
<circle cx="1462.8" cy="626.2" r="4.35"/>
<circle cx="1471" cy="631.2" r="4.35"/>
<circle cx="1464" cy="644.2" r="4.35"/>
<circle cx="1468.5" cy="656.2" r="4.35"/>
<circle cx="1468.5" cy="660" r="4.35"/>
<circle cx="1467.2" cy="663.8" r="4.35"/>
<circle cx="1459.8" cy="671.2" r="4.35"/>
<circle cx="1463.5" cy="672.5" r="4.35"/>
<circle cx="1458" cy="678.8" r="4.35"/>
<circle cx="1463.5" cy="692" r="4.35"/>
<circle cx="1459" cy="700" r="4.35"/>
<circle cx="1472.2" cy="718.2" r="4.35"/>
<circle cx="1454" cy="424" r="4.35"/>
<circle cx="1455" cy="462" r="4.35"/>
<circle cx="1457" cy="468" r="4.35"/>
<circle cx="1457" cy="617" r="4.35"/>
<circle cx="1469" cy="658" r="4.35"/>
<circle cx="1461" cy="671" r="4.35"/>
<circle cx="1463" cy="693" r="4.35"/>
</g>
<g fill="#00bfc4" fill-opacity="0.5" stroke="#00bfc4" stroke-opacity="0.5" stroke-width="1">
<circle cx="1670.2" cy="390" r="4.35"/>
<circle cx="1671" cy="402" r="4.35"/>
<circle cx="1685.5" cy="402.5" r="4.35"/>
<circle cx="1676" cy="411.2" r="4.35"/>
<circle cx="1668.5" cy="421.2" r="4.35"/>
<circle cx="1673.5" cy="426.2" r="4.35"/>
<circle cx="1681.8" cy="429.2" r="4.35"/>
<circle cx="1667.2" cy="435" r="4.35"/>
<circle cx="1668.5" cy="440.8" r="4.35"/>
<circle cx="1678.5" cy="449.5" r="4.35"/>
<circle cx="1678.5" cy="456.2" r="4.35"/>
<circle cx="1684.8" cy="458.8" r="4.35"/>
<circle cx="1668.5" cy="463.8" r="4.35"/>
<circle cx="1681" cy="465" r="4.35"/>
<circle cx="1674.8" cy="468.8" r="4.35"/>
<circle cx="1666" cy="472" r="4.35"/>
<circle cx="1678.5" cy="483.8" r="4.35"/>
<circle cx="1673.5" cy="492.5" r="4.35"/>
<circle cx="1684.8" cy="493.8" r="4.35"/>
<circle cx="1671" cy="508.8" r="4.35"/>
<circle cx="1678.5" cy="517.5" r="4.35"/>
<circle cx="1684" cy="525.5" r="4.35"/>
<circle cx="1682.8" cy="538.8" r="4.35"/>
<circle cx="1674.2" cy="547" r="4.35"/>
<circle cx="1679.2" cy="567" r="4.35"/>
<circle cx="1676" cy="585.8" r="4.35"/>
<circle cx="1676" cy="593.2" r="4.35"/>
<circle cx="1667.2" cy="613" r="4.35"/>
<circle cx="1673.5" cy="617.5" r="4.35"/>
<circle cx="1677.2" cy="621.2" r="4.35"/>
<circle cx="1683.5" cy="626.2" r="4.35"/>
<circle cx="1674.8" cy="631.2" r="4.35"/>
<circle cx="1672.2" cy="644.2" r="4.35"/>
<circle cx="1674.8" cy="656.2" r="4.35"/>
<circle cx="1668.5" cy="659.2" r="4.35"/>
<circle cx="1681" cy="659.2" r="4.35"/>
<circle cx="1677.2" cy="671.2" r="4.35"/>
<circle cx="1668.5" cy="672" r="4.35"/>
<circle cx="1673.5" cy="678.8" r="4.35"/>
<circle cx="1666" cy="691.2" r="4.35"/>
<circle cx="1672.2" cy="692.5" r="4.35"/>
<circle cx="1668" cy="701.2" r="4.35"/>
<circle cx="1666" cy="718.8" r="4.35"/>
<circle cx="1669" cy="423" r="4.35"/>
<circle cx="1677" cy="462" r="4.35"/>
<circle cx="1675" cy="620" r="4.35"/>
<circle cx="1675" cy="658" r="4.35"/>
<circle cx="1673" cy="674" r="4.35"/>
<circle cx="1670" cy="693" r="4.35"/>
</g>
<line x1="248.8" y1="322.6" x2="524.4" y2="498.1" stroke="#000" stroke-width="3.1" stroke-linecap="butt"/>
<line x1="273" y1="537.7" x2="549.6" y2="537.7" stroke="#000" stroke-width="3.1" stroke-linecap="butt"/>
<g stroke="#000" stroke-width="2.3" fill="none">
<path d="M235,317.7 H262.2 M235,327.3 H262.2 M248.6,317.7 V327.3"/>
</g>
<circle cx="248.6" cy="322.5" r="5.0" fill="#000"/>
<g stroke="#000" stroke-width="2.3" fill="none">
<path d="M511,493.1 H537.8 M511,502.6 H537.8 M524.4,493.1 V502.6"/>
</g>
<circle cx="524.4" cy="497.9" r="5.0" fill="#000"/>
<g stroke="#000" stroke-width="2.3" fill="none">
<path d="M259.5,533.4 H286.5 M259.5,542.4 H286.5 M273,533.4 V542.4"/>
</g>
<circle cx="273" cy="537.9" r="5.0" fill="#000"/>
<g stroke="#000" stroke-width="2.3" fill="none">
<path d="M535.5,533.3 H562.6 M535.5,542.4 H562.6 M549,533.3 V542.4"/>
</g>
<circle cx="549" cy="537.9" r="5.0" fill="#000"/>
<line x1="930.2" y1="336.1" x2="1142.3" y2="484.5" stroke="#000" stroke-width="3.1" stroke-linecap="butt"/>
<line x1="949.3" y1="544.8" x2="1162" y2="544.8" stroke="#000" stroke-width="3.1" stroke-linecap="butt"/>
<g stroke="#000" stroke-width="2.3" fill="none">
<path d="M919.5,331.6 H940.7 M919.5,340.4 H940.7 M930.1,331.6 V340.4"/>
</g>
<circle cx="930.1" cy="336" r="5.0" fill="#000"/>
<g stroke="#000" stroke-width="2.3" fill="none">
<path d="M1132.1,480.3 H1152.5 M1132.1,488.9 H1152.5 M1142.3,480.3 V488.9"/>
</g>
<circle cx="1142.3" cy="484.6" r="5.0" fill="#000"/>
<g stroke="#000" stroke-width="2.3" fill="none">
<path d="M937.8,540.6 H959.4 M937.8,549.1 H959.4 M948.6,540.6 V549.1"/>
</g>
<circle cx="948.6" cy="544.9" r="5.0" fill="#000"/>
<g stroke="#000" stroke-width="2.3" fill="none">
<path d="M1151.6,540.6 H1172.4 M1151.6,549.1 H1172.4 M1162,540.6 V549.1"/>
</g>
<circle cx="1162" cy="544.9" r="5.0" fill="#000"/>
<line x1="1411.3" y1="327.1" x2="1624.4" y2="493.8" stroke="#000" stroke-width="3.1" stroke-linecap="butt"/>
<line x1="1430.6" y1="548.5" x2="1643.5" y2="548.5" stroke="#000" stroke-width="3.1" stroke-linecap="butt"/>
<g stroke="#000" stroke-width="2.3" fill="none">
<path d="M1400.6,322.7 H1421.8 M1400.6,331.3 H1421.8 M1411.2,322.7 V331.3"/>
</g>
<circle cx="1411.2" cy="327" r="5.0" fill="#000"/>
<g stroke="#000" stroke-width="2.3" fill="none">
<path d="M1613.9,489.4 H1634.7 M1613.9,498.2 H1634.7 M1624.3,489.4 V498.2"/>
</g>
<circle cx="1624.3" cy="493.8" r="5.0" fill="#000"/>
<g stroke="#000" stroke-width="2.3" fill="none">
<path d="M1419.7,544.3 H1440.9 M1419.7,552.7 H1440.9 M1430.3,544.3 V552.7"/>
</g>
<circle cx="1430.3" cy="548.5" r="5.0" fill="#000"/>
<g stroke="#000" stroke-width="2.3" fill="none">
<path d="M1632.9,544.3 H1653.7 M1632.9,552.7 H1653.7 M1643.3,544.3 V552.7"/>
</g>
<circle cx="1643.3" cy="548.5" r="5.0" fill="#000"/>
<path d="M261.7,147.7 C261.7,133.7 262.3,122.5 264,113.5 H533.9 C535.6,122.5 536.2,133.7 536.2,147.7" fill="none" stroke="#000" stroke-width="2.4" stroke-linejoin="round" stroke-linecap="round"/>
<path d="M927.2,147.5 C927.2,133.5 927.8,129.1 929.5,120.1 H1150.2 C1151.9,129.1 1152.5,133.5 1152.5,147.5" fill="none" stroke="#000" stroke-width="2.2" stroke-linejoin="round" stroke-linecap="round"/>
<path d="M1437.2,147.5 C1437.2,133.5 1437.8,129.1 1439.5,120.1 H1660.2 C1661.9,129.1 1662.5,133.5 1662.5,147.5" fill="none" stroke="#000" stroke-width="2.2" stroke-linejoin="round" stroke-linecap="round"/>
<text x="392.52" y="119" font-size="50" fill="#f00">*</text>
<text x="1032.82" y="128.7" font-size="39" fill="#f00">*</text>
<text x="1541.22" y="128.7" font-size="39" fill="#f00">*</text>
<g stroke="#111111" stroke-width="2.4" fill="none" stroke-linecap="butt" stroke-linejoin="miter">
<path d="M95.3,102.5 V881.3 H702.5"/>
<path d="M811.5,102.5 V881.3 H1280"/>
<path d="M1292.4,881.3 H1761.3"/>
</g>
<g stroke="#333" stroke-width="1.7">
<line x1="89.3" y1="246.3" x2="94.2" y2="246.3"/>
<line x1="805.5" y1="246.3" x2="810.4" y2="246.3"/>
<line x1="89.3" y1="464.3" x2="94.2" y2="464.3"/>
<line x1="805.5" y1="464.3" x2="810.4" y2="464.3"/>
<line x1="89.3" y1="682.4" x2="94.2" y2="682.4"/>
<line x1="805.5" y1="682.4" x2="810.4" y2="682.4"/>
<line x1="261" y1="882.4" x2="261" y2="887.8"/>
<line x1="537" y1="882.4" x2="537" y2="887.8"/>
<line x1="939.6" y1="882.4" x2="939.6" y2="887.8"/>
<line x1="1152.5" y1="882.4" x2="1152.5" y2="887.8"/>
<line x1="1420.7" y1="882.4" x2="1420.7" y2="887.8"/>
<line x1="1633.6" y1="882.4" x2="1633.6" y2="887.8"/>
</g>
<text x="51.47" y="256.35" font-size="28.2" fill="#4d4d4d" letter-spacing="-0.014">60</text>
<text x="767.47" y="256.35" font-size="28.2" fill="#4d4d4d" letter-spacing="-0.014">60</text>
<text x="51.46" y="474.35" font-size="28.2" fill="#4d4d4d">40</text>
<text x="767.46" y="474.35" font-size="28.2" fill="#4d4d4d">40</text>
<text x="51.47" y="692.35" font-size="28.2" fill="#4d4d4d" letter-spacing="-0.014">20</text>
<text x="767.47" y="692.35" font-size="28.2" fill="#4d4d4d" letter-spacing="-0.014">20</text>
<text x="228.02" y="914" font-size="28.2" fill="#4d4d4d" letter-spacing="0.135">Filter</text>
<text x="486.74" y="914" font-size="28.2" fill="#4d4d4d" letter-spacing="-0.148">Contour</text>
<text x="906.57" y="914" font-size="28.2" fill="#4d4d4d" letter-spacing="0.135">Filter</text>
<text x="1101.64" y="914" font-size="28.2" fill="#4d4d4d" letter-spacing="-0.148">Contour</text>
<text x="1388.07" y="914" font-size="28.2" fill="#4d4d4d" letter-spacing="0.135">Filter</text>
<text x="1583.09" y="914" font-size="28.2" fill="#4d4d4d" letter-spacing="-0.148">Contour</text>
<text x="342.58" y="949" font-size="32.4" fill="#000" letter-spacing="0.479">Method</text>
<text x="1230.63" y="949" font-size="32.4" fill="#000" letter-spacing="0.509">Method</text>
<text transform="translate(39,680.77) rotate(-90)" font-size="32.4" fill="#000" letter-spacing="0.147">Response Error (degrees)</text>
<text transform="translate(755,680.77) rotate(-90)" font-size="32.4" fill="#000" letter-spacing="0.147">Response Error (degrees)</text>
<text x="660.7" y="977.3" font-size="32.4" fill="#000" letter-spacing="0.333">Image Condition</text>
<circle cx="682.7" cy="1014" r="4.8" fill="#f8766d" fill-opacity="0.55" stroke="#f8766d" stroke-opacity="0.55"/>
<circle cx="682.7" cy="1054.3" r="4.8" fill="#00bfc4" fill-opacity="0.5" stroke="#00bfc4" stroke-opacity="0.5"/>
<text x="714.57" y="1024.5" font-size="28.2" fill="#000" letter-spacing="0.140">Max</text>
<text x="714.57" y="1065.4" font-size="28.2" fill="#000" letter-spacing="0.314">Min</text>
</svg>
</body></html>
